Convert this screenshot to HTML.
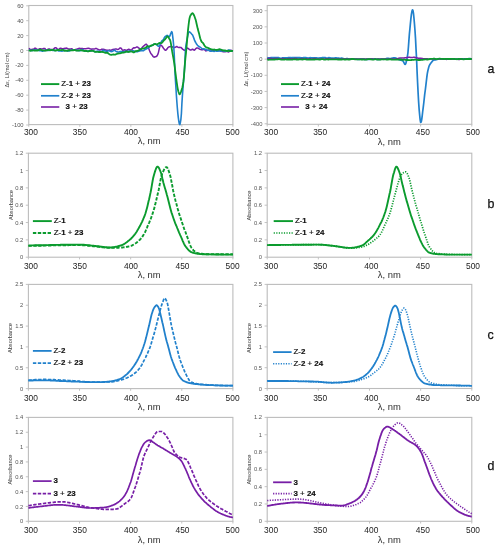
<!DOCTYPE html>
<html><head><meta charset="utf-8"><style>
html,body{margin:0;padding:0;background:#fff;width:499px;height:550px;overflow:hidden;}
svg{display:block;filter:blur(0.3px);}
text{font-family:"Liberation Sans", sans-serif;}
</style></head><body>
<svg width="499" height="550" viewBox="0 0 499 550">
<rect width="499" height="550" fill="#fff"/>
<rect x="28.80" y="5.50" width="204.10" height="119.10" fill="none" stroke="#bcbcbc" stroke-width="1.1"/>
<line x1="26.20" y1="5.80" x2="28.80" y2="5.80" stroke="#bcbcbc" stroke-width="0.9"/>
<text x="23.60" y="7.85" font-size="5.8" text-anchor="end" fill="#555">60</text>
<line x1="26.20" y1="20.70" x2="28.80" y2="20.70" stroke="#bcbcbc" stroke-width="0.9"/>
<text x="23.60" y="22.75" font-size="5.8" text-anchor="end" fill="#555">40</text>
<line x1="26.20" y1="35.60" x2="28.80" y2="35.60" stroke="#bcbcbc" stroke-width="0.9"/>
<text x="23.60" y="37.65" font-size="5.8" text-anchor="end" fill="#555">20</text>
<line x1="26.20" y1="50.50" x2="28.80" y2="50.50" stroke="#bcbcbc" stroke-width="0.9"/>
<text x="23.60" y="52.55" font-size="5.8" text-anchor="end" fill="#555">0</text>
<line x1="26.20" y1="65.40" x2="28.80" y2="65.40" stroke="#bcbcbc" stroke-width="0.9"/>
<text x="23.60" y="67.45" font-size="5.8" text-anchor="end" fill="#555">-20</text>
<line x1="26.20" y1="80.30" x2="28.80" y2="80.30" stroke="#bcbcbc" stroke-width="0.9"/>
<text x="23.60" y="82.35" font-size="5.8" text-anchor="end" fill="#555">-40</text>
<line x1="26.20" y1="95.20" x2="28.80" y2="95.20" stroke="#bcbcbc" stroke-width="0.9"/>
<text x="23.60" y="97.25" font-size="5.8" text-anchor="end" fill="#555">-60</text>
<line x1="26.20" y1="110.10" x2="28.80" y2="110.10" stroke="#bcbcbc" stroke-width="0.9"/>
<text x="23.60" y="112.15" font-size="5.8" text-anchor="end" fill="#555">-80</text>
<line x1="26.20" y1="125.00" x2="28.80" y2="125.00" stroke="#bcbcbc" stroke-width="0.9"/>
<text x="23.60" y="127.05" font-size="5.8" text-anchor="end" fill="#555">-100</text>
<line x1="28.80" y1="124.60" x2="28.80" y2="126.80" stroke="#bcbcbc" stroke-width="0.9"/>
<text x="30.90" y="134.60" font-size="9.5" text-anchor="middle" fill="#222" textLength="14.0" lengthAdjust="spacingAndGlyphs">300</text>
<line x1="79.83" y1="124.60" x2="79.83" y2="126.80" stroke="#bcbcbc" stroke-width="0.9"/>
<text x="79.85" y="134.60" font-size="9.5" text-anchor="middle" fill="#222" textLength="14.0" lengthAdjust="spacingAndGlyphs">350</text>
<line x1="130.85" y1="124.60" x2="130.85" y2="126.80" stroke="#bcbcbc" stroke-width="0.9"/>
<text x="131.00" y="134.60" font-size="9.5" text-anchor="middle" fill="#222" textLength="14.0" lengthAdjust="spacingAndGlyphs">400</text>
<line x1="181.88" y1="124.60" x2="181.88" y2="126.80" stroke="#bcbcbc" stroke-width="0.9"/>
<text x="182.50" y="134.60" font-size="9.5" text-anchor="middle" fill="#222" textLength="14.0" lengthAdjust="spacingAndGlyphs">450</text>
<line x1="232.90" y1="124.60" x2="232.90" y2="126.80" stroke="#bcbcbc" stroke-width="0.9"/>
<text x="232.55" y="134.60" font-size="9.5" text-anchor="middle" fill="#222" textLength="14.0" lengthAdjust="spacingAndGlyphs">500</text>
<text x="149.20" y="144.40" font-size="9.3" text-anchor="middle" fill="#2e2e2e" textLength="23" lengthAdjust="spacingAndGlyphs">λ, nm</text>
<text transform="translate(6.70 70.00) rotate(-90)" x="0" y="0" font-size="6.1" text-anchor="middle" dominant-baseline="central" fill="#3a3a3a" textLength="35.0" lengthAdjust="spacingAndGlyphs">Δε, L/(mol cm)</text>
<path d="M28.8 48.5L29.3 48.7L29.8 49.1L30.3 49.4L30.8 49.5L31.4 49.5L31.9 49.4L32.4 49.3L32.9 49.3L33.4 49.2L33.9 48.9L34.4 48.5L34.9 48.2L35.4 48.2L35.9 48.5L36.5 48.9L37.0 49.2L37.5 49.4L38.0 49.4L38.5 49.3L39.0 49.1L39.5 48.8L40.0 48.7L40.5 48.7L41.0 48.8L41.6 48.9L42.1 49.0L42.6 48.9L43.1 48.7L43.6 48.5L44.1 48.4L44.6 48.4L45.1 48.9L45.6 49.4L46.1 49.8L46.7 50.0L47.2 49.7L47.7 49.5L48.2 49.1L48.7 48.9L49.2 49.1L49.7 49.1L50.2 49.4L50.7 49.6L51.3 49.5L51.8 49.6L52.3 49.6L52.8 49.5L53.3 49.4L53.8 48.9L54.3 48.3L54.8 47.9L55.3 47.7L55.8 47.7L56.4 48.1L56.9 48.6L57.4 49.1L57.9 49.5L58.4 49.5L58.9 49.3L59.4 48.8L59.9 48.4L60.4 48.3L60.9 48.2L61.5 48.6L62.0 48.8L62.5 48.8L63.0 48.9L63.5 48.7L64.0 48.5L64.5 48.5L65.0 48.3L65.5 48.3L66.0 48.2L66.6 48.1L67.1 48.4L67.6 48.5L68.1 48.9L68.6 49.1L69.1 49.0L69.6 49.2L70.1 49.1L70.6 49.0L71.2 49.0L71.7 48.8L72.2 49.0L72.7 49.5L73.2 49.9L73.7 50.3L74.2 50.3L74.7 50.1L75.2 49.8L75.7 49.5L76.3 49.2L76.8 49.2L77.3 49.1L77.8 48.8L78.3 48.7L78.8 48.5L79.3 48.3L79.8 48.4L80.3 48.5L80.8 48.5L81.4 48.5L81.9 48.5L82.4 48.5L82.9 48.7L83.4 48.8L83.9 48.8L84.4 48.8L84.9 48.8L85.4 48.8L85.9 48.8L86.5 48.6L87.0 48.5L87.5 48.4L88.0 48.2L88.5 48.3L89.0 48.4L89.5 48.4L90.0 48.8L90.5 48.9L91.1 49.1L91.6 49.2L92.1 49.0L92.6 48.9L93.1 48.9L93.6 48.9L94.1 49.0L94.6 48.9L95.1 48.7L95.6 48.4L96.2 48.4L96.7 48.7L97.2 48.9L97.7 49.2L98.2 49.4L98.7 49.5L99.2 49.9L99.7 50.0L100.2 49.9L100.7 49.8L101.3 49.5L101.8 49.2L102.3 49.3L102.8 49.3L103.3 49.3L103.8 49.5L104.3 49.4L104.8 49.6L105.3 49.9L105.8 49.9L106.4 50.2L106.9 50.2L107.4 50.2L107.9 50.2L108.4 50.2L108.9 50.2L109.4 50.1L109.9 50.1L110.4 50.3L111.0 50.2L111.5 50.0L112.0 50.0L112.5 49.5L113.0 49.5L113.5 49.5L114.0 49.2L114.5 49.3L115.0 49.1L115.5 48.9L116.1 49.1L116.6 49.1L117.1 49.3L117.6 49.4L118.1 49.4L118.6 49.2L119.1 48.7L119.6 48.2L120.1 48.0L120.6 47.9L121.2 48.4L121.7 49.1L122.2 49.7L122.7 50.2L123.2 50.2L123.7 50.1L124.2 49.9L124.7 49.8L125.2 50.0L125.7 50.2L126.3 50.3L126.8 50.3L127.3 50.0L127.8 49.7L128.3 49.5L128.8 49.3L129.3 49.5L129.8 49.8L130.3 50.0L130.8 50.1L131.4 49.9L131.9 49.5L132.4 48.9L132.9 48.4L133.4 48.0L133.9 47.8L134.4 47.9L134.9 47.8L135.4 47.7L136.0 47.4L136.5 47.0L137.0 47.0L137.5 47.0L138.0 47.4L138.5 47.8L139.0 48.1L139.5 48.6L140.0 48.9L140.5 49.1L141.1 49.0L141.6 48.5L142.1 47.8L142.6 47.0L143.1 46.5L143.6 46.0L144.1 45.8L144.6 45.2L145.1 44.7L145.6 44.4L146.2 44.2L146.7 44.6L147.2 45.3L147.7 46.1L148.2 47.1L148.7 48.4L149.2 49.7L149.7 51.0L150.2 52.2L150.7 53.2L151.3 54.0L151.8 54.6L152.3 55.3L152.8 56.1L153.3 56.6L153.8 57.0L154.3 57.2L154.8 56.9L155.3 56.8L155.9 56.7L156.4 56.2L156.9 56.0L157.4 55.2L157.9 54.2L158.4 52.6L158.9 50.3L159.4 48.2L159.9 46.4L160.4 45.1L161.0 45.2L161.5 45.5L162.0 46.0L162.5 46.8L163.0 47.5L163.5 48.2L164.0 48.8L164.5 49.6L165.0 50.0L165.5 50.2L166.1 50.0L166.6 49.4L167.1 48.9L167.6 48.1L168.1 47.5L168.6 47.1L169.1 46.8L169.6 46.7L170.1 46.7L170.6 46.5L171.2 46.4L171.7 46.6L172.2 46.8L172.7 47.1L173.2 47.4L173.7 47.5L174.2 47.5L174.7 47.5L175.2 47.2L175.8 47.0L176.3 46.7L176.8 46.5L177.3 46.8L177.8 47.1L178.3 47.4L178.8 47.6L179.3 47.6L179.8 47.3L180.3 47.4L180.9 47.4L181.4 47.8L181.9 48.4L182.4 48.9L182.9 49.4L183.4 49.7L183.9 50.0L184.4 50.3L184.9 50.2L185.4 50.1L186.0 49.6L186.5 48.8L187.0 48.4L187.5 48.1L188.0 48.4L188.5 48.7L189.0 49.2L189.5 49.6L190.0 49.8L190.5 50.0L191.1 49.9L191.6 49.7L192.1 49.3L192.6 49.3L193.1 49.5L193.6 49.8L194.1 50.2L194.6 50.1L195.1 49.5L195.7 48.8L196.2 48.3L196.7 48.0L197.2 47.9L197.7 48.1L198.2 48.2L198.7 48.4L199.2 48.9L199.7 49.2L200.2 49.4L200.8 49.6L201.3 49.7L201.8 49.8L202.3 49.8L202.8 49.7L203.3 49.4L203.8 49.2L204.3 49.5L204.8 50.0L205.3 50.4L205.9 50.9L206.4 50.7L206.9 50.5L207.4 50.4L207.9 50.0L208.4 49.9L208.9 50.0L209.4 50.2L209.9 50.6L210.4 51.0L211.0 51.1L211.5 50.8L212.0 50.5L212.5 50.3L213.0 50.1L213.5 50.3L214.0 50.4L214.5 50.4L215.0 50.4L215.6 50.3L216.1 50.2L216.6 50.1L217.1 50.0L217.6 50.0L218.1 50.1L218.6 50.3L219.1 50.5L219.6 50.5L220.1 50.6L220.7 50.7L221.2 50.8L221.7 51.2L222.2 51.5L222.7 51.6L223.2 51.7L223.7 51.8L224.2 51.7L224.7 51.7L225.2 51.7L225.8 51.5L226.3 51.3L226.8 51.3L227.3 51.5L227.8 51.7L228.3 51.9L228.8 51.9L229.3 51.5L229.8 51.0L230.3 50.5L230.9 50.2L231.4 50.5L231.9 50.8L232.4 51.2L232.9 51.4" fill="none" stroke="#771ea6" stroke-width="1.50" stroke-linejoin="round"/>
<path d="M28.8 50.0L29.3 50.2L29.8 50.3L30.3 50.2L30.8 50.4L31.4 50.5L31.9 50.5L32.4 50.6L32.9 50.4L33.4 50.1L33.9 49.9L34.4 49.7L34.9 49.8L35.4 50.0L35.9 50.1L36.5 50.2L37.0 50.2L37.5 50.1L38.0 50.3L38.5 50.4L39.0 50.5L39.5 50.6L40.0 50.6L40.5 50.7L41.0 50.8L41.6 50.9L42.1 51.1L42.6 51.1L43.1 51.0L43.6 50.8L44.1 50.6L44.6 50.5L45.1 50.5L45.6 50.4L46.1 50.3L46.7 50.2L47.2 50.2L47.7 50.4L48.2 50.4L48.7 50.5L49.2 50.5L49.7 50.3L50.2 50.3L50.7 50.1L51.3 50.0L51.8 50.2L52.3 50.2L52.8 50.4L53.3 50.5L53.8 50.5L54.3 50.5L54.8 50.5L55.3 50.4L55.8 50.4L56.4 50.3L56.9 50.2L57.4 50.4L57.9 50.5L58.4 50.7L58.9 51.0L59.4 50.9L59.9 50.9L60.4 50.9L60.9 50.9L61.5 51.1L62.0 51.1L62.5 51.0L63.0 50.9L63.5 50.6L64.0 50.5L64.5 50.4L65.0 50.4L65.5 50.5L66.0 50.7L66.6 50.8L67.1 50.8L67.6 51.0L68.1 51.0L68.6 51.0L69.1 51.0L69.6 50.7L70.1 50.5L70.6 50.4L71.2 50.2L71.7 50.3L72.2 50.3L72.7 50.2L73.2 50.2L73.7 50.2L74.2 50.1L74.7 50.1L75.2 50.2L75.7 50.2L76.3 50.2L76.8 50.4L77.3 50.3L77.8 50.4L78.3 50.5L78.8 50.4L79.3 50.7L79.8 50.6L80.3 50.6L80.8 50.5L81.4 50.1L81.9 49.9L82.4 49.6L82.9 49.7L83.4 50.1L83.9 50.5L84.4 50.9L84.9 51.1L85.4 51.2L85.9 51.2L86.5 51.2L87.0 51.3L87.5 51.1L88.0 51.0L88.5 51.0L89.0 50.8L89.5 51.0L90.0 51.1L90.5 51.0L91.1 50.9L91.6 50.6L92.1 50.5L92.6 50.5L93.1 50.7L93.6 51.0L94.1 51.2L94.6 51.5L95.1 51.6L95.6 51.6L96.2 51.5L96.7 51.3L97.2 51.2L97.7 51.1L98.2 51.2L98.7 51.2L99.2 51.2L99.7 51.5L100.2 51.8L100.7 51.8L101.3 51.7L101.8 51.3L102.3 50.7L102.8 50.5L103.3 50.3L103.8 50.5L104.3 50.7L104.8 50.8L105.3 51.1L105.8 51.3L106.4 51.5L106.9 51.5L107.4 51.3L107.9 51.0L108.4 50.8L108.9 50.8L109.4 50.9L109.9 51.1L110.4 51.4L111.0 51.4L111.5 51.6L112.0 51.5L112.5 51.3L113.0 51.0L113.5 50.6L114.0 50.3L114.5 50.2L115.0 50.5L115.5 50.9L116.1 51.4L116.6 51.7L117.1 51.8L117.6 52.0L118.1 52.0L118.6 52.0L119.1 52.0L119.6 51.8L120.1 51.6L120.6 51.5L121.2 51.5L121.7 51.6L122.2 51.7L122.7 51.8L123.2 51.8L123.7 51.9L124.2 51.8L124.7 51.6L125.2 51.4L125.7 51.4L126.3 51.5L126.8 51.7L127.3 51.7L127.8 51.6L128.3 51.2L128.8 51.0L129.3 51.0L129.8 51.1L130.3 51.4L130.8 51.4L131.4 51.3L131.9 51.2L132.4 50.9L132.9 50.8L133.4 50.9L133.9 51.0L134.4 51.2L134.9 51.4L135.4 51.5L136.0 51.7L136.5 51.7L137.0 51.6L137.5 51.6L138.0 51.5L138.5 51.3L139.0 51.2L139.5 51.0L140.0 50.9L140.5 50.8L141.1 50.7L141.6 50.5L142.1 50.7L142.6 50.7L143.1 50.7L143.6 50.6L144.1 50.2L144.6 49.8L145.1 49.5L145.6 49.2L146.2 49.0L146.7 48.7L147.2 48.4L147.7 48.3L148.2 47.9L148.7 47.4L149.2 46.9L149.7 46.3L150.2 46.2L150.7 46.0L151.3 45.9L151.8 45.8L152.3 45.3L152.8 44.9L153.3 44.6L153.8 44.2L154.3 44.1L154.8 44.0L155.3 44.0L155.9 44.2L156.4 44.4L156.9 44.9L157.4 45.5L157.9 45.9L158.4 46.3L158.9 46.2L159.4 45.5L159.9 44.6L160.4 43.4L161.0 42.3L161.5 41.5L162.0 40.8L162.5 40.5L163.0 39.9L163.5 39.2L164.0 38.4L164.5 37.5L165.0 36.8L165.5 36.2L166.1 35.9L166.6 35.6L167.1 35.4L167.6 35.6L168.1 36.0L168.6 36.4L169.1 36.6L169.6 36.5L170.1 35.4L170.6 33.8L171.2 32.5L171.7 31.7L172.2 32.7L172.7 36.3L173.2 40.6L173.7 46.1L174.2 54.0L174.7 65.4L175.2 76.4L175.8 85.8L176.3 94.0L176.8 101.0L177.3 107.5L177.8 113.1L178.3 117.6L178.8 121.1L179.3 123.8L179.8 124.7L180.3 122.9L180.9 119.3L181.4 113.6L181.9 103.5L182.4 95.6L182.9 89.1L183.4 82.8L183.9 76.7L184.4 71.0L184.9 63.0L185.4 49.9L186.0 45.1L186.5 42.1L187.0 39.6L187.5 37.1L188.0 34.6L188.5 32.6L189.0 31.9L189.5 31.9L190.0 32.2L190.5 32.8L191.1 33.2L191.6 33.9L192.1 34.5L192.6 35.1L193.1 36.3L193.6 37.6L194.1 38.9L194.6 40.4L195.1 41.5L195.7 42.5L196.2 43.5L196.7 44.2L197.2 44.9L197.7 45.6L198.2 45.9L198.7 46.4L199.2 46.6L199.7 46.9L200.2 47.2L200.8 47.6L201.3 48.0L201.8 48.4L202.3 48.7L202.8 48.9L203.3 48.9L203.8 49.0L204.3 49.0L204.8 49.1L205.3 49.2L205.9 49.4L206.4 49.8L206.9 50.0L207.4 50.2L207.9 50.2L208.4 50.2L208.9 50.4L209.4 50.6L209.9 51.1L210.4 51.3L211.0 51.1L211.5 51.1L212.0 50.8L212.5 50.9L213.0 51.2L213.5 51.3L214.0 51.4L214.5 51.2L215.0 51.0L215.6 50.9L216.1 50.9L216.6 51.2L217.1 51.3L217.6 51.2L218.1 51.2L218.6 51.0L219.1 51.0L219.6 51.0L220.1 51.1L220.7 51.1L221.2 50.9L221.7 50.7L222.2 50.5L222.7 50.5L223.2 50.8L223.7 51.0L224.2 51.2L224.7 51.3L225.2 51.2L225.8 51.2L226.3 51.2L226.8 51.1L227.3 50.8L227.8 50.5L228.3 50.2L228.8 50.0L229.3 50.0L229.8 50.2L230.3 50.5L230.9 50.8L231.4 51.1L231.9 51.2L232.4 51.2L232.9 51.3" fill="none" stroke="#2181cc" stroke-width="1.60" stroke-linejoin="round"/>
<path d="M28.8 50.3L29.3 50.5L29.8 50.7L30.3 50.8L30.8 50.7L31.4 50.7L31.9 50.4L32.4 50.3L32.9 50.3L33.4 50.3L33.9 50.4L34.4 50.6L34.9 50.5L35.4 50.5L35.9 50.5L36.5 50.5L37.0 50.5L37.5 50.5L38.0 50.4L38.5 50.2L39.0 50.0L39.5 49.7L40.0 49.7L40.5 49.7L41.0 49.9L41.6 50.2L42.1 50.3L42.6 50.4L43.1 50.4L43.6 50.4L44.1 50.5L44.6 50.6L45.1 50.6L45.6 50.7L46.1 50.7L46.7 50.5L47.2 50.3L47.7 50.0L48.2 49.8L48.7 50.0L49.2 50.1L49.7 50.2L50.2 50.3L50.7 50.2L51.3 50.1L51.8 50.0L52.3 49.9L52.8 49.8L53.3 49.9L53.8 50.0L54.3 50.3L54.8 50.6L55.3 50.7L55.8 50.7L56.4 50.5L56.9 50.2L57.4 50.0L57.9 49.9L58.4 50.0L58.9 50.0L59.4 50.2L59.9 50.1L60.4 50.2L60.9 50.2L61.5 50.1L62.0 49.9L62.5 49.8L63.0 49.8L63.5 50.0L64.0 50.5L64.5 50.8L65.0 50.8L65.5 50.7L66.0 50.6L66.6 50.6L67.1 50.8L67.6 50.6L68.1 50.5L68.6 50.4L69.1 50.2L69.6 50.3L70.1 50.4L70.6 50.4L71.2 50.4L71.7 50.4L72.2 50.4L72.7 50.4L73.2 50.3L73.7 50.1L74.2 50.0L74.7 50.0L75.2 50.2L75.7 50.4L76.3 50.6L76.8 50.6L77.3 50.6L77.8 50.6L78.3 50.6L78.8 50.5L79.3 50.4L79.8 50.3L80.3 50.2L80.8 50.2L81.4 50.3L81.9 50.5L82.4 50.6L82.9 50.7L83.4 50.9L83.9 50.9L84.4 50.9L84.9 51.0L85.4 50.8L85.9 50.9L86.5 51.0L87.0 51.1L87.5 51.3L88.0 51.3L88.5 51.3L89.0 51.1L89.5 51.0L90.0 50.9L90.5 50.9L91.1 50.8L91.6 50.8L92.1 50.9L92.6 50.8L93.1 51.0L93.6 51.2L94.1 51.4L94.6 51.6L95.1 51.9L95.6 51.9L96.2 51.9L96.7 51.8L97.2 51.8L97.7 51.9L98.2 51.9L98.7 52.0L99.2 52.0L99.7 52.0L100.2 52.0L100.7 51.9L101.3 51.8L101.8 51.8L102.3 51.9L102.8 52.0L103.3 52.1L103.8 52.2L104.3 52.5L104.8 52.7L105.3 52.8L105.8 52.9L106.4 52.7L106.9 52.6L107.4 52.8L107.9 53.0L108.4 53.5L108.9 53.9L109.4 54.3L109.9 54.6L110.4 54.7L111.0 54.8L111.5 54.8L112.0 54.7L112.5 54.7L113.0 54.5L113.5 54.5L114.0 54.6L114.5 54.7L115.0 54.7L115.5 54.6L116.1 54.2L116.6 54.0L117.1 53.8L117.6 53.7L118.1 53.6L118.6 53.4L119.1 53.4L119.6 53.3L120.1 53.3L120.6 53.2L121.2 52.9L121.7 52.8L122.2 52.6L122.7 52.5L123.2 52.6L123.7 52.5L124.2 52.4L124.7 52.3L125.2 52.1L125.7 51.8L126.3 51.6L126.8 51.5L127.3 51.6L127.8 51.8L128.3 52.0L128.8 51.9L129.3 51.8L129.8 51.6L130.3 51.4L130.8 51.4L131.4 51.4L131.9 51.6L132.4 51.7L132.9 52.1L133.4 52.4L133.9 52.3L134.4 52.1L134.9 51.7L135.4 51.2L136.0 51.1L136.5 51.1L137.0 50.9L137.5 50.9L138.0 50.8L138.5 50.4L139.0 50.2L139.5 49.9L140.0 49.5L140.5 49.3L141.1 49.0L141.6 48.9L142.1 48.7L142.6 48.7L143.1 48.6L143.6 48.4L144.1 48.4L144.6 48.2L145.1 48.0L145.6 47.8L146.2 47.2L146.7 46.8L147.2 46.4L147.7 46.2L148.2 46.4L148.7 46.6L149.2 46.6L149.7 46.4L150.2 46.2L150.7 45.7L151.3 45.5L151.8 45.4L152.3 45.2L152.8 45.1L153.3 44.9L153.8 44.4L154.3 44.2L154.8 44.0L155.3 43.9L155.9 44.3L156.4 44.3L156.9 44.3L157.4 44.3L157.9 43.8L158.4 43.6L158.9 43.3L159.4 43.0L159.9 43.1L160.4 43.1L161.0 43.1L161.5 43.0L162.0 42.7L162.5 42.1L163.0 41.5L163.5 40.8L164.0 40.2L164.5 39.8L165.0 39.3L165.5 38.7L166.1 38.0L166.6 37.1L167.1 36.5L167.6 36.4L168.1 36.7L168.6 37.5L169.1 38.4L169.6 39.2L170.1 40.0L170.6 41.9L171.2 45.1L171.7 48.6L172.2 51.7L172.7 54.3L173.2 57.0L173.7 59.8L174.2 62.9L174.7 66.5L175.2 70.8L175.8 75.4L176.3 79.5L176.8 82.9L177.3 86.3L177.8 89.1L178.3 91.2L178.8 92.8L179.3 94.1L179.8 94.4L180.3 93.5L180.9 92.1L181.4 90.5L181.9 88.9L182.4 87.2L182.9 84.8L183.4 81.7L183.9 77.2L184.4 70.2L184.9 63.8L185.4 58.3L186.0 53.0L186.5 47.5L187.0 41.5L187.5 35.4L188.0 30.1L188.5 25.7L189.0 21.5L189.5 18.4L190.0 16.5L190.5 15.4L191.1 14.6L191.6 13.8L192.1 13.3L192.6 13.2L193.1 13.6L193.6 14.5L194.1 15.5L194.6 16.7L195.1 18.2L195.7 19.9L196.2 22.0L196.7 24.2L197.2 26.5L197.7 28.6L198.2 30.5L198.7 32.3L199.2 34.1L199.7 36.2L200.2 38.2L200.8 39.9L201.3 41.2L201.8 42.0L202.3 42.4L202.8 42.8L203.3 43.5L203.8 44.3L204.3 45.2L204.8 45.9L205.3 46.6L205.9 47.1L206.4 47.4L206.9 47.7L207.4 47.6L207.9 47.8L208.4 48.1L208.9 48.3L209.4 48.6L209.9 48.9L210.4 49.0L211.0 49.2L211.5 49.3L212.0 49.5L212.5 49.6L213.0 49.6L213.5 49.7L214.0 49.5L214.5 49.6L215.0 49.7L215.6 49.8L216.1 50.0L216.6 49.9L217.1 49.8L217.6 49.8L218.1 49.6L218.6 49.5L219.1 49.3L219.6 49.2L220.1 49.3L220.7 49.5L221.2 49.8L221.7 50.1L222.2 50.1L222.7 50.3L223.2 50.3L223.7 50.5L224.2 50.5L224.7 50.5L225.2 50.5L225.8 50.6L226.3 50.8L226.8 51.0L227.3 51.0L227.8 50.9L228.3 50.7L228.8 50.7L229.3 50.9L229.8 51.0L230.3 51.1L230.9 51.1L231.4 51.0L231.9 50.9L232.4 50.9L232.9 51.1" fill="none" stroke="#0b9b2e" stroke-width="1.80" stroke-linejoin="round"/>
<line x1="41.00" y1="84.10" x2="59.30" y2="84.10" stroke="#0b9b2e" stroke-width="1.90"/>
<text x="61.20" y="86.30" font-size="7.9" fill="#111" stroke="#111" stroke-width="0.18" xml:space="preserve"><tspan font-weight="normal">Z-</tspan><tspan font-weight="bold">1</tspan><tspan font-weight="normal"> + </tspan><tspan font-weight="bold">23</tspan></text>
<line x1="41.00" y1="95.80" x2="59.30" y2="95.80" stroke="#2181cc" stroke-width="1.70"/>
<text x="61.20" y="98.00" font-size="7.9" fill="#111" stroke="#111" stroke-width="0.18" xml:space="preserve"><tspan font-weight="normal">Z-</tspan><tspan font-weight="bold">2</tspan><tspan font-weight="normal"> + </tspan><tspan font-weight="bold">23</tspan></text>
<line x1="41.00" y1="107.00" x2="59.30" y2="107.00" stroke="#771ea6" stroke-width="1.60"/>
<text x="61.20" y="109.20" font-size="7.9" fill="#111" stroke="#111" stroke-width="0.18" xml:space="preserve"><tspan font-weight="bold">  3</tspan><tspan font-weight="normal"> + </tspan><tspan font-weight="bold">23</tspan></text>
<rect x="267.20" y="5.50" width="204.60" height="118.80" fill="none" stroke="#bcbcbc" stroke-width="1.1"/>
<line x1="264.60" y1="10.70" x2="267.20" y2="10.70" stroke="#bcbcbc" stroke-width="0.9"/>
<text x="262.40" y="12.75" font-size="5.8" text-anchor="end" fill="#555">300</text>
<line x1="264.60" y1="26.85" x2="267.20" y2="26.85" stroke="#bcbcbc" stroke-width="0.9"/>
<text x="262.40" y="28.90" font-size="5.8" text-anchor="end" fill="#555">200</text>
<line x1="264.60" y1="43.00" x2="267.20" y2="43.00" stroke="#bcbcbc" stroke-width="0.9"/>
<text x="262.40" y="45.05" font-size="5.8" text-anchor="end" fill="#555">100</text>
<line x1="264.60" y1="59.15" x2="267.20" y2="59.15" stroke="#bcbcbc" stroke-width="0.9"/>
<text x="262.40" y="61.20" font-size="5.8" text-anchor="end" fill="#555">0</text>
<line x1="264.60" y1="75.30" x2="267.20" y2="75.30" stroke="#bcbcbc" stroke-width="0.9"/>
<text x="262.40" y="77.35" font-size="5.8" text-anchor="end" fill="#555">-100</text>
<line x1="264.60" y1="91.45" x2="267.20" y2="91.45" stroke="#bcbcbc" stroke-width="0.9"/>
<text x="262.40" y="93.50" font-size="5.8" text-anchor="end" fill="#555">-200</text>
<line x1="264.60" y1="107.60" x2="267.20" y2="107.60" stroke="#bcbcbc" stroke-width="0.9"/>
<text x="262.40" y="109.65" font-size="5.8" text-anchor="end" fill="#555">-300</text>
<line x1="264.60" y1="123.75" x2="267.20" y2="123.75" stroke="#bcbcbc" stroke-width="0.9"/>
<text x="262.40" y="125.80" font-size="5.8" text-anchor="end" fill="#555">-400</text>
<line x1="267.20" y1="124.30" x2="267.20" y2="126.50" stroke="#bcbcbc" stroke-width="0.9"/>
<text x="271.10" y="134.90" font-size="9.5" text-anchor="middle" fill="#222" textLength="14.0" lengthAdjust="spacingAndGlyphs">300</text>
<line x1="318.35" y1="124.30" x2="318.35" y2="126.50" stroke="#bcbcbc" stroke-width="0.9"/>
<text x="320.20" y="134.90" font-size="9.5" text-anchor="middle" fill="#222" textLength="14.0" lengthAdjust="spacingAndGlyphs">350</text>
<line x1="369.50" y1="124.30" x2="369.50" y2="126.50" stroke="#bcbcbc" stroke-width="0.9"/>
<text x="371.30" y="134.90" font-size="9.5" text-anchor="middle" fill="#222" textLength="14.0" lengthAdjust="spacingAndGlyphs">400</text>
<line x1="420.65" y1="124.30" x2="420.65" y2="126.50" stroke="#bcbcbc" stroke-width="0.9"/>
<text x="422.80" y="134.90" font-size="9.5" text-anchor="middle" fill="#222" textLength="14.0" lengthAdjust="spacingAndGlyphs">450</text>
<line x1="471.80" y1="124.30" x2="471.80" y2="126.50" stroke="#bcbcbc" stroke-width="0.9"/>
<text x="473.00" y="134.90" font-size="9.5" text-anchor="middle" fill="#222" textLength="14.0" lengthAdjust="spacingAndGlyphs">500</text>
<text x="389.30" y="144.70" font-size="9.3" text-anchor="middle" fill="#2e2e2e" textLength="23" lengthAdjust="spacingAndGlyphs">λ, nm</text>
<text transform="translate(245.40 69.10) rotate(-90)" x="0" y="0" font-size="6.1" text-anchor="middle" dominant-baseline="central" fill="#3a3a3a" textLength="35.0" lengthAdjust="spacingAndGlyphs">Δε, L/(mol cm)</text>
<path d="M267.2 57.7L267.7 57.8L268.2 57.8L268.7 57.9L269.2 57.9L269.8 57.9L270.3 57.8L270.8 57.7L271.3 57.6L271.8 57.5L272.3 57.5L272.8 57.5L273.3 57.5L273.8 57.6L274.4 57.6L274.9 57.6L275.4 57.7L275.9 57.7L276.4 57.7L276.9 57.6L277.4 57.6L277.9 57.6L278.5 57.6L279.0 57.8L279.5 58.0L280.0 58.2L280.5 58.3L281.0 58.3L281.5 58.3L282.0 58.1L282.5 57.9L283.1 57.8L283.6 57.8L284.1 57.8L284.6 57.8L285.1 57.8L285.6 57.9L286.1 57.9L286.6 57.9L287.1 57.8L287.7 57.8L288.2 57.7L288.7 57.6L289.2 57.6L289.7 57.6L290.2 57.7L290.7 57.7L291.2 57.7L291.8 57.8L292.3 57.7L292.8 57.7L293.3 57.6L293.8 57.5L294.3 57.5L294.8 57.5L295.3 57.6L295.8 57.6L296.4 57.7L296.9 57.7L297.4 57.7L297.9 57.6L298.4 57.6L298.9 57.6L299.4 57.6L299.9 57.6L300.4 57.7L301.0 57.8L301.5 57.8L302.0 57.9L302.5 57.8L303.0 57.8L303.5 57.7L304.0 57.6L304.5 57.6L305.1 57.5L305.6 57.5L306.1 57.7L306.6 57.8L307.1 57.9L307.6 58.0L308.1 58.0L308.6 58.0L309.1 57.9L309.7 57.8L310.2 57.7L310.7 57.8L311.2 57.9L311.7 57.9L312.2 57.9L312.7 57.9L313.2 57.9L313.7 57.9L314.3 57.9L314.8 57.8L315.3 57.8L315.8 57.8L316.3 57.8L316.8 57.9L317.3 58.0L317.8 58.0L318.4 58.0L318.9 58.0L319.4 58.0L319.9 57.9L320.4 58.0L320.9 57.9L321.4 57.9L321.9 57.8L322.4 57.6L323.0 57.6L323.5 57.5L324.0 57.5L324.5 57.6L325.0 57.6L325.5 57.7L326.0 57.9L326.5 58.0L327.0 58.0L327.6 58.0L328.1 57.9L328.6 57.7L329.1 57.7L329.6 57.8L330.1 57.8L330.6 58.0L331.1 58.1L331.6 58.1L332.2 58.2L332.7 58.2L333.2 58.3L333.7 58.2L334.2 58.1L334.7 58.0L335.2 57.9L335.7 57.9L336.3 57.9L336.8 58.0L337.3 58.1L337.8 58.1L338.3 58.2L338.8 58.2L339.3 58.3L339.8 58.4L340.3 58.3L340.9 58.3L341.4 58.2L341.9 58.2L342.4 58.3L342.9 58.5L343.4 58.6L343.9 58.8L344.4 58.8L344.9 58.9L345.5 58.8L346.0 58.8L346.5 58.7L347.0 58.7L347.5 58.7L348.0 58.8L348.5 58.8L349.0 59.0L349.6 59.1L350.1 59.1L350.6 59.2L351.1 59.1L351.6 59.0L352.1 59.0L352.6 59.1L353.1 59.1L353.6 59.2L354.2 59.2L354.7 59.1L355.2 59.1L355.7 59.1L356.2 59.1L356.7 59.2L357.2 59.3L357.7 59.4L358.2 59.5L358.8 59.4L359.3 59.4L359.8 59.3L360.3 59.2L360.8 59.2L361.3 59.2L361.8 59.2L362.3 59.1L362.9 59.1L363.4 59.2L363.9 59.3L364.4 59.4L364.9 59.5L365.4 59.5L365.9 59.5L366.4 59.4L366.9 59.3L367.5 59.3L368.0 59.3L368.5 59.4L369.0 59.3L369.5 59.3L370.0 59.2L370.5 59.2L371.0 59.2L371.5 59.2L372.1 59.2L372.6 59.2L373.1 59.1L373.6 59.0L374.1 58.9L374.6 58.8L375.1 58.9L375.6 59.1L376.1 59.3L376.7 59.4L377.2 59.5L377.7 59.4L378.2 59.3L378.7 59.3L379.2 59.3L379.7 59.3L380.2 59.3L380.8 59.2L381.3 59.2L381.8 59.1L382.3 59.1L382.8 59.2L383.3 59.2L383.8 59.3L384.3 59.1L384.8 59.0L385.4 58.9L385.9 58.7L386.4 58.5L386.9 58.4L387.4 58.3L387.9 58.3L388.4 58.4L388.9 58.5L389.4 58.7L390.0 58.7L390.5 58.7L391.0 58.6L391.5 58.4L392.0 58.2L392.5 58.1L393.0 58.0L393.5 57.9L394.1 57.9L394.6 57.9L395.1 57.9L395.6 58.0L396.1 58.2L396.6 58.4L397.1 58.7L397.6 59.0L398.1 59.2L398.7 59.4L399.2 59.6L399.7 59.8L400.2 59.9L400.7 60.1L401.2 60.3L401.7 60.3L402.2 60.5L402.7 60.7L403.3 61.4L403.8 62.4L404.3 63.4L404.8 64.2L405.3 64.4L405.8 63.6L406.3 61.8L406.8 59.3L407.4 56.4L407.9 53.0L408.4 47.3L408.9 40.4L409.4 33.9L409.9 28.8L410.4 23.6L410.9 18.6L411.4 14.3L412.0 11.1L412.5 9.8L413.0 10.6L413.5 13.7L414.0 18.5L414.5 24.4L415.0 30.7L415.5 38.2L416.0 48.4L416.6 59.7L417.1 72.1L417.6 82.7L418.1 92.7L418.6 101.6L419.1 108.9L419.6 114.3L420.1 119.3L420.6 122.4L421.2 122.1L421.7 119.7L422.2 115.8L422.7 111.5L423.2 107.6L423.7 103.5L424.2 99.0L424.7 94.4L425.3 90.0L425.8 85.8L426.3 81.6L426.8 77.4L427.3 73.7L427.8 71.0L428.3 68.9L428.8 67.1L429.3 65.6L429.9 64.5L430.4 63.8L430.9 63.1L431.4 62.4L431.9 61.7L432.4 61.1L432.9 60.6L433.4 60.3L433.9 60.1L434.5 60.0L435.0 60.0L435.5 59.8L436.0 59.7L436.5 59.6L437.0 59.4L437.5 59.3L438.0 59.1L438.6 59.0L439.1 58.9L439.6 58.9L440.1 58.9L440.6 59.0L441.1 59.0L441.6 59.0L442.1 58.9L442.6 58.8L443.2 58.8L443.7 58.8L444.2 58.8L444.7 58.8L445.2 58.9L445.7 58.9L446.2 59.0L446.7 59.0L447.2 58.9L447.8 58.9L448.3 58.8L448.8 58.8L449.3 58.9L449.8 58.9L450.3 59.0L450.8 59.0L451.3 59.0L451.9 58.9L452.4 58.9L452.9 58.9L453.4 58.9L453.9 58.9L454.4 58.9L454.9 59.0L455.4 59.0L455.9 59.1L456.5 59.0L457.0 59.0L457.5 59.0L458.0 59.1L458.5 59.1L459.0 59.2L459.5 59.2L460.0 59.2L460.5 59.1L461.1 59.0L461.6 58.9L462.1 58.9L462.6 58.9L463.1 58.9L463.6 58.9L464.1 58.9L464.6 58.9L465.2 58.8L465.7 58.8L466.2 58.9L466.7 58.9L467.2 59.0L467.7 58.9L468.2 58.8L468.7 58.7L469.2 58.7L469.8 58.7L470.3 58.7L470.8 58.8L471.3 58.8L471.8 58.8" fill="none" stroke="#2181cc" stroke-width="1.70" stroke-linejoin="round"/>
<path d="M267.2 58.7L267.7 58.6L268.2 58.5L268.7 58.5L269.2 58.4L269.8 58.3L270.3 58.3L270.8 58.4L271.3 58.5L271.8 58.7L272.3 58.8L272.8 58.8L273.3 58.8L273.8 58.7L274.4 58.5L274.9 58.5L275.4 58.4L275.9 58.4L276.4 58.5L276.9 58.5L277.4 58.6L277.9 58.6L278.5 58.7L279.0 58.7L279.5 58.8L280.0 58.8L280.5 58.9L281.0 58.8L281.5 58.7L282.0 58.7L282.5 58.6L283.1 58.6L283.6 58.7L284.1 58.7L284.6 58.7L285.1 58.8L285.6 58.8L286.1 58.9L286.6 58.9L287.1 58.8L287.7 58.8L288.2 58.7L288.7 58.6L289.2 58.6L289.7 58.6L290.2 58.7L290.7 58.8L291.2 58.7L291.8 58.7L292.3 58.7L292.8 58.7L293.3 58.7L293.8 58.7L294.3 58.6L294.8 58.5L295.3 58.5L295.8 58.5L296.4 58.6L296.9 58.7L297.4 58.9L297.9 59.0L298.4 59.0L298.9 59.0L299.4 58.9L299.9 58.8L300.4 58.7L301.0 58.7L301.5 58.6L302.0 58.6L302.5 58.7L303.0 58.8L303.5 58.8L304.0 58.9L304.5 58.9L305.1 58.9L305.6 58.8L306.1 58.8L306.6 58.8L307.1 58.8L307.6 58.9L308.1 58.9L308.6 58.9L309.1 58.8L309.7 58.8L310.2 58.8L310.7 58.8L311.2 58.9L311.7 58.9L312.2 58.9L312.7 58.9L313.2 58.8L313.7 58.7L314.3 58.6L314.8 58.6L315.3 58.6L315.8 58.8L316.3 58.9L316.8 59.0L317.3 59.1L317.8 59.1L318.4 59.1L318.9 59.1L319.4 59.1L319.9 59.0L320.4 59.0L320.9 59.0L321.4 59.0L321.9 59.0L322.4 59.1L323.0 59.1L323.5 59.1L324.0 59.1L324.5 59.0L325.0 58.9L325.5 58.9L326.0 58.8L326.5 58.8L327.0 58.8L327.6 58.8L328.1 58.7L328.6 58.7L329.1 58.8L329.6 58.9L330.1 59.0L330.6 59.0L331.1 59.0L331.6 59.0L332.2 59.0L332.7 59.0L333.2 59.1L333.7 59.1L334.2 59.0L334.7 59.0L335.2 59.0L335.7 59.1L336.3 59.1L336.8 59.1L337.3 59.0L337.8 58.9L338.3 58.9L338.8 58.9L339.3 58.9L339.8 59.1L340.3 59.1L340.9 59.2L341.4 59.1L341.9 59.0L342.4 59.0L342.9 58.9L343.4 58.8L343.9 58.9L344.4 58.9L344.9 58.9L345.5 58.9L346.0 58.9L346.5 58.8L347.0 58.9L347.5 58.9L348.0 58.9L348.5 59.0L349.0 59.0L349.6 59.1L350.1 59.1L350.6 59.1L351.1 59.0L351.6 59.0L352.1 59.0L352.6 59.1L353.1 59.1L353.6 59.1L354.2 59.1L354.7 59.0L355.2 59.0L355.7 58.9L356.2 58.9L356.7 58.9L357.2 58.9L357.7 58.9L358.2 58.9L358.8 58.9L359.3 59.0L359.8 59.1L360.3 59.1L360.8 59.1L361.3 59.1L361.8 59.0L362.3 59.0L362.9 59.0L363.4 59.0L363.9 58.9L364.4 58.9L364.9 58.9L365.4 58.9L365.9 59.0L366.4 59.1L366.9 59.1L367.5 59.0L368.0 58.9L368.5 58.9L369.0 58.9L369.5 58.9L370.0 59.0L370.5 59.0L371.0 58.9L371.5 58.9L372.1 58.8L372.6 58.9L373.1 59.0L373.6 59.2L374.1 59.3L374.6 59.3L375.1 59.3L375.6 59.3L376.1 59.2L376.7 59.1L377.2 59.0L377.7 59.0L378.2 59.0L378.7 59.1L379.2 59.1L379.7 59.1L380.2 59.2L380.8 59.1L381.3 59.1L381.8 59.1L382.3 59.0L382.8 59.0L383.3 59.0L383.8 58.9L384.3 58.9L384.8 59.0L385.4 59.0L385.9 59.1L386.4 59.2L386.9 59.2L387.4 59.1L387.9 59.0L388.4 58.9L388.9 58.9L389.4 58.9L390.0 59.0L390.5 59.0L391.0 59.0L391.5 59.0L392.0 59.0L392.5 58.9L393.0 58.9L393.5 59.0L394.1 58.9L394.6 58.9L395.1 58.9L395.6 58.9L396.1 58.9L396.6 58.8L397.1 58.8L397.6 58.7L398.1 58.5L398.7 58.3L399.2 58.2L399.7 58.1L400.2 58.0L400.7 58.0L401.2 58.0L401.7 58.1L402.2 58.0L402.7 58.1L403.3 58.1L403.8 58.0L404.3 57.9L404.8 57.8L405.3 57.7L405.8 57.7L406.3 57.6L406.8 57.6L407.4 57.6L407.9 57.4L408.4 57.3L408.9 57.2L409.4 57.2L409.9 57.3L410.4 57.4L410.9 57.4L411.4 57.5L412.0 57.5L412.5 57.5L413.0 57.4L413.5 57.3L414.0 57.3L414.5 57.3L415.0 57.5L415.5 57.6L416.0 57.7L416.6 57.8L417.1 58.0L417.6 58.1L418.1 58.2L418.6 58.3L419.1 58.3L419.6 58.3L420.1 58.2L420.6 58.2L421.2 58.3L421.7 58.4L422.2 58.5L422.7 58.6L423.2 58.7L423.7 58.8L424.2 58.8L424.7 58.8L425.3 58.8L425.8 58.8L426.3 58.7L426.8 58.7L427.3 58.7L427.8 58.9L428.3 59.0L428.8 59.2L429.3 59.2L429.9 59.2L430.4 59.1L430.9 59.0L431.4 58.9L431.9 58.9L432.4 58.9L432.9 58.9L433.4 59.0L433.9 59.1L434.5 59.2L435.0 59.3L435.5 59.3L436.0 59.3L436.5 59.3L437.0 59.3L437.5 59.3L438.0 59.2L438.6 59.2L439.1 59.1L439.6 59.0L440.1 59.0L440.6 59.0L441.1 59.0L441.6 59.1L442.1 59.1L442.6 59.2L443.2 59.2L443.7 59.2L444.2 59.1L444.7 59.1L445.2 59.2L445.7 59.2L446.2 59.3L446.7 59.4L447.2 59.3L447.8 59.2L448.3 59.1L448.8 58.9L449.3 58.9L449.8 59.0L450.3 59.2L450.8 59.3L451.3 59.3L451.9 59.2L452.4 59.1L452.9 59.1L453.4 59.1L453.9 59.1L454.4 59.2L454.9 59.3L455.4 59.2L455.9 59.2L456.5 59.2L457.0 59.2L457.5 59.2L458.0 59.3L458.5 59.4L459.0 59.4L459.5 59.4L460.0 59.3L460.5 59.3L461.1 59.3L461.6 59.2L462.1 59.2L462.6 59.3L463.1 59.2L463.6 59.2L464.1 59.2L464.6 59.2L465.2 59.2L465.7 59.2L466.2 59.2L466.7 59.1L467.2 59.0L467.7 59.0L468.2 59.0L468.7 59.0L469.2 59.0L469.8 59.0L470.3 59.0L470.8 59.0L471.3 59.1L471.8 59.1" fill="none" stroke="#771ea6" stroke-width="1.50" stroke-linejoin="round"/>
<path d="M267.2 59.4L267.7 59.5L268.2 59.7L268.7 59.8L269.2 59.7L269.8 59.7L270.3 59.6L270.8 59.5L271.3 59.6L271.8 59.6L272.3 59.6L272.8 59.6L273.3 59.6L273.8 59.5L274.4 59.5L274.9 59.5L275.4 59.4L275.9 59.4L276.4 59.4L276.9 59.4L277.4 59.3L277.9 59.3L278.5 59.2L279.0 59.2L279.5 59.2L280.0 59.3L280.5 59.4L281.0 59.5L281.5 59.6L282.0 59.6L282.5 59.6L283.1 59.6L283.6 59.6L284.1 59.5L284.6 59.5L285.1 59.4L285.6 59.4L286.1 59.4L286.6 59.5L287.1 59.5L287.7 59.5L288.2 59.6L288.7 59.5L289.2 59.5L289.7 59.5L290.2 59.5L290.7 59.6L291.2 59.6L291.8 59.7L292.3 59.6L292.8 59.5L293.3 59.3L293.8 59.3L294.3 59.2L294.8 59.3L295.3 59.3L295.8 59.4L296.4 59.5L296.9 59.5L297.4 59.5L297.9 59.6L298.4 59.5L298.9 59.4L299.4 59.4L299.9 59.3L300.4 59.4L301.0 59.4L301.5 59.4L302.0 59.5L302.5 59.5L303.0 59.4L303.5 59.3L304.0 59.3L304.5 59.2L305.1 59.2L305.6 59.3L306.1 59.4L306.6 59.5L307.1 59.7L307.6 59.7L308.1 59.6L308.6 59.6L309.1 59.5L309.7 59.4L310.2 59.5L310.7 59.5L311.2 59.6L311.7 59.6L312.2 59.6L312.7 59.5L313.2 59.5L313.7 59.5L314.3 59.5L314.8 59.5L315.3 59.4L315.8 59.4L316.3 59.4L316.8 59.4L317.3 59.3L317.8 59.4L318.4 59.4L318.9 59.5L319.4 59.6L319.9 59.6L320.4 59.5L320.9 59.3L321.4 59.2L321.9 59.1L322.4 59.1L323.0 59.2L323.5 59.4L324.0 59.6L324.5 59.7L325.0 59.6L325.5 59.5L326.0 59.4L326.5 59.3L327.0 59.4L327.6 59.4L328.1 59.5L328.6 59.5L329.1 59.4L329.6 59.4L330.1 59.4L330.6 59.4L331.1 59.4L331.6 59.4L332.2 59.4L332.7 59.3L333.2 59.3L333.7 59.4L334.2 59.4L334.7 59.4L335.2 59.4L335.7 59.3L336.3 59.3L336.8 59.3L337.3 59.4L337.8 59.5L338.3 59.5L338.8 59.5L339.3 59.5L339.8 59.5L340.3 59.5L340.9 59.5L341.4 59.5L341.9 59.5L342.4 59.4L342.9 59.4L343.4 59.3L343.9 59.4L344.4 59.5L344.9 59.5L345.5 59.6L346.0 59.5L346.5 59.4L347.0 59.4L347.5 59.4L348.0 59.5L348.5 59.6L349.0 59.5L349.6 59.5L350.1 59.4L350.6 59.3L351.1 59.1L351.6 59.0L352.1 58.9L352.6 58.9L353.1 59.0L353.6 59.1L354.2 59.2L354.7 59.3L355.2 59.4L355.7 59.4L356.2 59.4L356.7 59.3L357.2 59.3L357.7 59.4L358.2 59.4L358.8 59.4L359.3 59.4L359.8 59.3L360.3 59.3L360.8 59.4L361.3 59.5L361.8 59.5L362.3 59.5L362.9 59.5L363.4 59.4L363.9 59.4L364.4 59.5L364.9 59.6L365.4 59.7L365.9 59.7L366.4 59.5L366.9 59.4L367.5 59.3L368.0 59.2L368.5 59.1L369.0 59.1L369.5 59.1L370.0 59.1L370.5 59.3L371.0 59.3L371.5 59.4L372.1 59.6L372.6 59.6L373.1 59.7L373.6 59.7L374.1 59.5L374.6 59.3L375.1 59.2L375.6 59.2L376.1 59.3L376.7 59.4L377.2 59.5L377.7 59.5L378.2 59.5L378.7 59.5L379.2 59.6L379.7 59.6L380.2 59.7L380.8 59.5L381.3 59.4L381.8 59.4L382.3 59.3L382.8 59.4L383.3 59.4L383.8 59.4L384.3 59.4L384.8 59.4L385.4 59.4L385.9 59.4L386.4 59.5L386.9 59.6L387.4 59.6L387.9 59.5L388.4 59.5L388.9 59.3L389.4 59.3L390.0 59.2L390.5 59.3L391.0 59.4L391.5 59.6L392.0 59.7L392.5 59.7L393.0 59.7L393.5 59.7L394.1 59.7L394.6 59.7L395.1 59.6L395.6 59.6L396.1 59.5L396.6 59.5L397.1 59.5L397.6 59.6L398.1 59.7L398.7 59.7L399.2 59.7L399.7 59.5L400.2 59.5L400.7 59.5L401.2 59.5L401.7 59.7L402.2 59.8L402.7 59.8L403.3 59.8L403.8 59.7L404.3 59.7L404.8 59.7L405.3 59.8L405.8 59.9L406.3 60.0L406.8 60.0L407.4 60.0L407.9 60.0L408.4 60.1L408.9 60.1L409.4 60.2L409.9 60.2L410.4 60.1L410.9 60.1L411.4 60.0L412.0 59.9L412.5 59.9L413.0 59.8L413.5 59.8L414.0 59.8L414.5 59.7L415.0 59.7L415.5 59.7L416.0 59.7L416.6 59.8L417.1 59.9L417.6 59.9L418.1 60.0L418.6 60.1L419.1 60.0L419.6 60.0L420.1 60.0L420.6 59.9L421.2 59.9L421.7 59.8L422.2 59.8L422.7 59.8L423.2 59.7L423.7 59.6L424.2 59.5L424.7 59.4L425.3 59.3L425.8 59.4L426.3 59.4L426.8 59.5L427.3 59.6L427.8 59.5L428.3 59.4L428.8 59.3L429.3 59.1L429.9 58.9L430.4 58.8L430.9 58.8L431.4 58.9L431.9 58.9L432.4 58.9L432.9 58.8L433.4 58.7L433.9 58.7L434.5 58.7L435.0 58.9L435.5 59.0L436.0 59.2L436.5 59.2L437.0 59.2L437.5 59.1L438.0 58.9L438.6 58.8L439.1 58.7L439.6 58.7L440.1 58.7L440.6 58.8L441.1 58.9L441.6 58.9L442.1 58.9L442.6 58.9L443.2 58.9L443.7 59.0L444.2 59.1L444.7 59.1L445.2 59.0L445.7 59.0L446.2 58.9L446.7 58.8L447.2 58.8L447.8 58.9L448.3 59.0L448.8 59.0L449.3 59.0L449.8 59.0L450.3 59.0L450.8 58.9L451.3 58.9L451.9 58.8L452.4 58.9L452.9 58.9L453.4 58.9L453.9 59.0L454.4 59.0L454.9 59.1L455.4 59.1L455.9 59.2L456.5 59.2L457.0 59.3L457.5 59.2L458.0 59.1L458.5 59.0L459.0 58.9L459.5 58.8L460.0 58.9L460.5 58.9L461.1 58.9L461.6 58.9L462.1 59.0L462.6 59.2L463.1 59.3L463.6 59.3L464.1 59.3L464.6 59.2L465.2 59.2L465.7 59.1L466.2 59.1L466.7 59.0L467.2 59.0L467.7 59.0L468.2 59.0L468.7 59.0L469.2 59.0L469.8 58.9L470.3 59.0L470.8 58.9L471.3 59.0L471.8 59.0" fill="none" stroke="#0b9b2e" stroke-width="1.80" stroke-linejoin="round"/>
<line x1="281.00" y1="84.10" x2="299.00" y2="84.10" stroke="#0b9b2e" stroke-width="1.90"/>
<text x="300.90" y="86.30" font-size="7.9" fill="#111" stroke="#111" stroke-width="0.18" xml:space="preserve"><tspan font-weight="normal">Z-</tspan><tspan font-weight="bold">1</tspan><tspan font-weight="normal"> + </tspan><tspan font-weight="bold">24</tspan></text>
<line x1="281.00" y1="95.80" x2="299.00" y2="95.80" stroke="#2181cc" stroke-width="1.70"/>
<text x="300.90" y="98.00" font-size="7.9" fill="#111" stroke="#111" stroke-width="0.18" xml:space="preserve"><tspan font-weight="normal">Z-</tspan><tspan font-weight="bold">2</tspan><tspan font-weight="normal"> + </tspan><tspan font-weight="bold">24</tspan></text>
<line x1="281.00" y1="107.00" x2="299.00" y2="107.00" stroke="#771ea6" stroke-width="1.60"/>
<text x="300.90" y="109.20" font-size="7.9" fill="#111" stroke="#111" stroke-width="0.18" xml:space="preserve"><tspan font-weight="bold">  3</tspan><tspan font-weight="normal"> + </tspan><tspan font-weight="bold">24</tspan></text>
<rect x="28.40" y="153.20" width="204.50" height="104.00" fill="none" stroke="#bcbcbc" stroke-width="1.1"/>
<line x1="25.80" y1="257.20" x2="28.40" y2="257.20" stroke="#bcbcbc" stroke-width="0.9"/>
<text x="23.20" y="259.25" font-size="5.8" text-anchor="end" fill="#555">0</text>
<line x1="25.80" y1="239.87" x2="28.40" y2="239.87" stroke="#bcbcbc" stroke-width="0.9"/>
<text x="23.20" y="241.92" font-size="5.8" text-anchor="end" fill="#555">0.2</text>
<line x1="25.80" y1="222.53" x2="28.40" y2="222.53" stroke="#bcbcbc" stroke-width="0.9"/>
<text x="23.20" y="224.58" font-size="5.8" text-anchor="end" fill="#555">0.4</text>
<line x1="25.80" y1="205.20" x2="28.40" y2="205.20" stroke="#bcbcbc" stroke-width="0.9"/>
<text x="23.20" y="207.25" font-size="5.8" text-anchor="end" fill="#555">0.6</text>
<line x1="25.80" y1="187.86" x2="28.40" y2="187.86" stroke="#bcbcbc" stroke-width="0.9"/>
<text x="23.20" y="189.91" font-size="5.8" text-anchor="end" fill="#555">0.8</text>
<line x1="25.80" y1="170.53" x2="28.40" y2="170.53" stroke="#bcbcbc" stroke-width="0.9"/>
<text x="23.20" y="172.58" font-size="5.8" text-anchor="end" fill="#555">1</text>
<line x1="25.80" y1="153.20" x2="28.40" y2="153.20" stroke="#bcbcbc" stroke-width="0.9"/>
<text x="23.20" y="155.25" font-size="5.8" text-anchor="end" fill="#555">1.2</text>
<line x1="28.40" y1="257.20" x2="28.40" y2="259.40" stroke="#bcbcbc" stroke-width="0.9"/>
<text x="30.90" y="268.70" font-size="9.5" text-anchor="middle" fill="#222" textLength="14.0" lengthAdjust="spacingAndGlyphs">300</text>
<line x1="79.53" y1="257.20" x2="79.53" y2="259.40" stroke="#bcbcbc" stroke-width="0.9"/>
<text x="79.85" y="268.70" font-size="9.5" text-anchor="middle" fill="#222" textLength="14.0" lengthAdjust="spacingAndGlyphs">350</text>
<line x1="130.65" y1="257.20" x2="130.65" y2="259.40" stroke="#bcbcbc" stroke-width="0.9"/>
<text x="131.00" y="268.70" font-size="9.5" text-anchor="middle" fill="#222" textLength="14.0" lengthAdjust="spacingAndGlyphs">400</text>
<line x1="181.78" y1="257.20" x2="181.78" y2="259.40" stroke="#bcbcbc" stroke-width="0.9"/>
<text x="182.50" y="268.70" font-size="9.5" text-anchor="middle" fill="#222" textLength="14.0" lengthAdjust="spacingAndGlyphs">450</text>
<line x1="232.90" y1="257.20" x2="232.90" y2="259.40" stroke="#bcbcbc" stroke-width="0.9"/>
<text x="232.55" y="268.70" font-size="9.5" text-anchor="middle" fill="#222" textLength="14.0" lengthAdjust="spacingAndGlyphs">500</text>
<text x="149.20" y="278.20" font-size="9.3" text-anchor="middle" fill="#2e2e2e" textLength="23" lengthAdjust="spacingAndGlyphs">λ, nm</text>
<text transform="translate(10.00 205.00) rotate(-90)" x="0" y="0" font-size="6.1" text-anchor="middle" dominant-baseline="central" fill="#3a3a3a" textLength="30.0" lengthAdjust="spacingAndGlyphs">Absorbance</text>
<path d="M28.4 245.5L28.9 245.5L29.4 245.5L29.9 245.5L30.4 245.5L31.0 245.4L31.5 245.4L32.0 245.4L32.5 245.4L33.0 245.4L33.5 245.4L34.0 245.4L34.5 245.4L35.0 245.3L35.6 245.3L36.1 245.3L36.6 245.3L37.1 245.3L37.6 245.3L38.1 245.3L38.6 245.3L39.1 245.3L39.6 245.2L40.2 245.2L40.7 245.2L41.2 245.2L41.7 245.2L42.2 245.2L42.7 245.2L43.2 245.2L43.7 245.2L44.2 245.2L44.8 245.1L45.3 245.1L45.8 245.1L46.3 245.1L46.8 245.1L47.3 245.1L47.8 245.1L48.3 245.1L48.9 245.1L49.4 245.1L49.9 245.0L50.4 245.0L50.9 245.0L51.4 245.0L51.9 245.0L52.4 245.0L52.9 245.0L53.5 245.0L54.0 245.0L54.5 245.0L55.0 245.0L55.5 244.9L56.0 244.9L56.5 244.9L57.0 244.9L57.5 244.9L58.1 244.9L58.6 244.9L59.1 244.9L59.6 244.9L60.1 244.9L60.6 244.8L61.1 244.8L61.6 244.8L62.1 244.8L62.7 244.8L63.2 244.8L63.7 244.8L64.2 244.8L64.7 244.8L65.2 244.8L65.7 244.8L66.2 244.8L66.7 244.7L67.3 244.7L67.8 244.7L68.3 244.7L68.8 244.7L69.3 244.7L69.8 244.7L70.3 244.7L70.8 244.7L71.3 244.7L71.9 244.7L72.4 244.7L72.9 244.7L73.4 244.7L73.9 244.7L74.4 244.7L74.9 244.6L75.4 244.6L75.9 244.6L76.5 244.6L77.0 244.6L77.5 244.6L78.0 244.6L78.5 244.6L79.0 244.6L79.5 244.6L80.0 244.6L80.5 244.6L81.1 244.7L81.6 244.7L82.1 244.7L82.6 244.7L83.1 244.8L83.6 244.8L84.1 244.8L84.6 244.9L85.1 244.9L85.7 245.0L86.2 245.0L86.7 245.1L87.2 245.1L87.7 245.2L88.2 245.2L88.7 245.3L89.2 245.3L89.8 245.4L90.3 245.4L90.8 245.5L91.3 245.6L91.8 245.6L92.3 245.7L92.8 245.7L93.3 245.8L93.8 245.8L94.4 245.9L94.9 245.9L95.4 246.0L95.9 246.0L96.4 246.1L96.9 246.2L97.4 246.2L97.9 246.3L98.4 246.3L99.0 246.4L99.5 246.5L100.0 246.5L100.5 246.6L101.0 246.7L101.5 246.8L102.0 246.8L102.5 246.9L103.0 247.0L103.6 247.0L104.1 247.1L104.6 247.1L105.1 247.2L105.6 247.2L106.1 247.3L106.6 247.3L107.1 247.4L107.6 247.4L108.2 247.4L108.7 247.5L109.2 247.5L109.7 247.5L110.2 247.5L110.7 247.5L111.2 247.5L111.7 247.4L112.2 247.4L112.8 247.3L113.3 247.3L113.8 247.2L114.3 247.1L114.8 247.0L115.3 246.9L115.8 246.8L116.3 246.7L116.8 246.6L117.4 246.5L117.9 246.3L118.4 246.2L118.9 246.0L119.4 245.9L119.9 245.7L120.4 245.6L120.9 245.4L121.4 245.2L122.0 245.1L122.5 244.9L123.0 244.7L123.5 244.4L124.0 244.1L124.5 243.8L125.0 243.5L125.5 243.1L126.0 242.7L126.6 242.3L127.1 241.9L127.6 241.5L128.1 241.1L128.6 240.7L129.1 240.3L129.6 239.9L130.1 239.4L130.7 239.0L131.2 238.5L131.7 238.0L132.2 237.4L132.7 236.9L133.2 236.3L133.7 235.7L134.2 235.1L134.7 234.4L135.3 233.8L135.8 233.0L136.3 232.3L136.8 231.5L137.3 230.6L137.8 229.8L138.3 228.9L138.8 228.0L139.3 227.0L139.9 226.1L140.4 225.1L140.9 224.1L141.4 223.1L141.9 222.1L142.4 221.0L142.9 219.9L143.4 218.7L143.9 217.5L144.5 216.2L145.0 214.8L145.5 213.3L146.0 211.6L146.5 209.8L147.0 207.9L147.5 205.9L148.0 203.7L148.5 201.5L149.1 199.3L149.6 197.0L150.1 194.6L150.6 192.3L151.1 189.7L151.6 186.9L152.1 183.9L152.6 181.0L153.1 178.3L153.7 176.0L154.2 174.2L154.7 172.5L155.2 170.9L155.7 169.5L156.2 168.2L156.7 167.3L157.2 166.7L157.7 166.7L158.3 167.0L158.8 167.7L159.3 168.6L159.8 169.8L160.3 171.0L160.8 172.3L161.3 173.8L161.8 175.9L162.3 178.2L162.9 180.6L163.4 182.7L163.9 184.5L164.4 186.2L164.9 187.9L165.4 189.5L165.9 191.2L166.4 193.0L166.9 194.9L167.5 196.9L168.0 198.9L168.5 200.9L169.0 203.0L169.5 205.0L170.0 207.0L170.5 208.9L171.0 210.8L171.5 212.6L172.1 214.2L172.6 215.8L173.1 217.3L173.6 218.7L174.1 220.1L174.6 221.5L175.1 222.9L175.6 224.2L176.2 225.5L176.7 226.7L177.2 228.0L177.7 229.2L178.2 230.4L178.7 231.6L179.2 232.8L179.7 233.9L180.2 235.1L180.8 236.3L181.3 237.5L181.8 238.7L182.3 239.9L182.8 241.1L183.3 242.2L183.8 243.3L184.3 244.3L184.8 245.2L185.4 246.1L185.9 246.8L186.4 247.4L186.9 248.1L187.4 248.7L187.9 249.3L188.4 249.8L188.9 250.4L189.4 250.8L190.0 251.3L190.5 251.7L191.0 252.0L191.5 252.2L192.0 252.4L192.5 252.6L193.0 252.7L193.5 252.9L194.0 253.0L194.6 253.1L195.1 253.2L195.6 253.4L196.1 253.5L196.6 253.6L197.1 253.6L197.6 253.7L198.1 253.8L198.6 253.9L199.2 253.9L199.7 254.0L200.2 254.0L200.7 254.1L201.2 254.1L201.7 254.1L202.2 254.2L202.7 254.2L203.2 254.2L203.8 254.2L204.3 254.2L204.8 254.2L205.3 254.3L205.8 254.3L206.3 254.3L206.8 254.3L207.3 254.3L207.8 254.3L208.4 254.3L208.9 254.3L209.4 254.4L209.9 254.4L210.4 254.4L210.9 254.4L211.4 254.4L211.9 254.4L212.5 254.4L213.0 254.4L213.5 254.4L214.0 254.4L214.5 254.5L215.0 254.5L215.5 254.5L216.0 254.5L216.5 254.5L217.1 254.5L217.6 254.5L218.1 254.5L218.6 254.5L219.1 254.5L219.6 254.5L220.1 254.5L220.6 254.5L221.1 254.5L221.7 254.5L222.2 254.6L222.7 254.6L223.2 254.6L223.7 254.6L224.2 254.6L224.7 254.6L225.2 254.6L225.7 254.6L226.3 254.6L226.8 254.6L227.3 254.6L227.8 254.6L228.3 254.6L228.8 254.6L229.3 254.6L229.8 254.6L230.3 254.6L230.9 254.6L231.4 254.6L231.9 254.6L232.4 254.6L232.9 254.6" fill="none" stroke="#0b9b2e" stroke-width="1.90" stroke-linejoin="round"/>
<path d="M28.4 245.9L28.9 245.9L29.4 245.9L29.9 245.9L30.4 245.9L31.0 245.9L31.5 245.9L32.0 245.8L32.5 245.8L33.0 245.8L33.5 245.8L34.0 245.8L34.5 245.8L35.0 245.8L35.6 245.8L36.1 245.8L36.6 245.7L37.1 245.7L37.6 245.7L38.1 245.7L38.6 245.7L39.1 245.7L39.6 245.7L40.2 245.7L40.7 245.7L41.2 245.6L41.7 245.6L42.2 245.6L42.7 245.6L43.2 245.6L43.7 245.6L44.2 245.6L44.8 245.6L45.3 245.6L45.8 245.6L46.3 245.5L46.8 245.5L47.3 245.5L47.8 245.5L48.3 245.5L48.9 245.5L49.4 245.5L49.9 245.5L50.4 245.5L50.9 245.5L51.4 245.5L51.9 245.4L52.4 245.4L52.9 245.4L53.5 245.4L54.0 245.4L54.5 245.4L55.0 245.4L55.5 245.4L56.0 245.4L56.5 245.4L57.0 245.3L57.5 245.3L58.1 245.3L58.6 245.3L59.1 245.3L59.6 245.3L60.1 245.3L60.6 245.3L61.1 245.3L61.6 245.3L62.1 245.3L62.7 245.2L63.2 245.2L63.7 245.2L64.2 245.2L64.7 245.2L65.2 245.2L65.7 245.2L66.2 245.2L66.7 245.2L67.3 245.2L67.8 245.2L68.3 245.2L68.8 245.1L69.3 245.1L69.8 245.1L70.3 245.1L70.8 245.1L71.3 245.1L71.9 245.1L72.4 245.1L72.9 245.1L73.4 245.1L73.9 245.1L74.4 245.1L74.9 245.1L75.4 245.1L75.9 245.1L76.5 245.1L77.0 245.1L77.5 245.1L78.0 245.1L78.5 245.1L79.0 245.1L79.5 245.1L80.0 245.1L80.5 245.1L81.1 245.1L81.6 245.1L82.1 245.1L82.6 245.2L83.1 245.2L83.6 245.2L84.1 245.3L84.6 245.3L85.1 245.3L85.7 245.4L86.2 245.4L86.7 245.5L87.2 245.5L87.7 245.6L88.2 245.7L88.7 245.7L89.2 245.8L89.8 245.8L90.3 245.9L90.8 245.9L91.3 246.0L91.8 246.1L92.3 246.1L92.8 246.2L93.3 246.2L93.8 246.3L94.4 246.3L94.9 246.4L95.4 246.4L95.9 246.5L96.4 246.5L96.9 246.6L97.4 246.6L97.9 246.7L98.4 246.8L99.0 246.8L99.5 246.9L100.0 247.0L100.5 247.0L101.0 247.1L101.5 247.1L102.0 247.2L102.5 247.3L103.0 247.3L103.6 247.4L104.1 247.5L104.6 247.5L105.1 247.6L105.6 247.6L106.1 247.7L106.6 247.7L107.1 247.7L107.6 247.8L108.2 247.8L108.7 247.8L109.2 247.8L109.7 247.8L110.2 247.8L110.7 247.8L111.2 247.8L111.7 247.8L112.2 247.8L112.8 247.8L113.3 247.8L113.8 247.8L114.3 247.8L114.8 247.8L115.3 247.8L115.8 247.8L116.3 247.7L116.8 247.7L117.4 247.7L117.9 247.7L118.4 247.7L118.9 247.6L119.4 247.6L119.9 247.6L120.4 247.6L120.9 247.5L121.4 247.5L122.0 247.5L122.5 247.5L123.0 247.4L123.5 247.4L124.0 247.3L124.5 247.3L125.0 247.2L125.5 247.1L126.0 247.0L126.6 246.9L127.1 246.8L127.6 246.7L128.1 246.6L128.6 246.5L129.1 246.3L129.6 246.2L130.1 246.1L130.7 245.9L131.2 245.8L131.7 245.6L132.2 245.4L132.7 245.1L133.2 244.8L133.7 244.5L134.2 244.2L134.7 243.9L135.3 243.5L135.8 243.2L136.3 242.8L136.8 242.4L137.3 242.0L137.8 241.6L138.3 241.2L138.8 240.7L139.3 240.2L139.9 239.7L140.4 239.1L140.9 238.6L141.4 237.9L141.9 237.3L142.4 236.6L142.9 235.9L143.4 235.1L143.9 234.3L144.5 233.3L145.0 232.3L145.5 231.2L146.0 230.0L146.5 228.8L147.0 227.6L147.5 226.3L148.0 225.1L148.5 224.0L149.1 222.8L149.6 221.6L150.1 220.4L150.6 219.2L151.1 217.9L151.6 216.5L152.1 215.1L152.6 213.6L153.1 212.0L153.7 210.2L154.2 208.4L154.7 206.5L155.2 204.6L155.7 202.5L156.2 200.5L156.7 198.3L157.2 196.2L157.7 194.0L158.3 191.8L158.8 189.4L159.3 186.7L159.8 183.9L160.3 181.2L160.8 178.6L161.3 176.5L161.8 174.9L162.3 173.5L162.9 172.3L163.4 171.0L163.9 169.9L164.4 168.9L164.9 168.1L165.4 167.5L165.9 167.2L166.4 167.1L166.9 167.4L167.5 168.1L168.0 169.1L168.5 170.4L169.0 171.8L169.5 173.3L170.0 174.9L170.5 176.7L171.0 179.1L171.5 181.8L172.1 184.7L172.6 187.6L173.1 190.4L173.6 192.7L174.1 194.9L174.6 197.0L175.1 199.1L175.6 201.1L176.2 203.1L176.7 205.0L177.2 206.8L177.7 208.7L178.2 210.4L178.7 212.2L179.2 213.9L179.7 215.5L180.2 217.2L180.8 218.7L181.3 220.3L181.8 221.8L182.3 223.3L182.8 224.8L183.3 226.2L183.8 227.7L184.3 229.1L184.8 230.4L185.4 231.8L185.9 233.2L186.4 234.6L186.9 235.9L187.4 237.4L187.9 238.8L188.4 240.3L188.9 241.8L189.4 243.2L190.0 244.6L190.5 245.8L191.0 246.9L191.5 247.8L192.0 248.5L192.5 249.1L193.0 249.7L193.5 250.3L194.0 250.8L194.6 251.3L195.1 251.7L195.6 252.1L196.1 252.5L196.6 252.8L197.1 253.0L197.6 253.2L198.1 253.3L198.6 253.4L199.2 253.4L199.7 253.5L200.2 253.6L200.7 253.6L201.2 253.7L201.7 253.8L202.2 253.8L202.7 253.9L203.2 253.9L203.8 254.0L204.3 254.0L204.8 254.0L205.3 254.1L205.8 254.1L206.3 254.2L206.8 254.2L207.3 254.2L207.8 254.2L208.4 254.3L208.9 254.3L209.4 254.3L209.9 254.3L210.4 254.3L210.9 254.3L211.4 254.3L211.9 254.3L212.5 254.3L213.0 254.3L213.5 254.3L214.0 254.3L214.5 254.3L215.0 254.3L215.5 254.3L216.0 254.3L216.5 254.3L217.1 254.3L217.6 254.3L218.1 254.3L218.6 254.3L219.1 254.3L219.6 254.3L220.1 254.3L220.6 254.3L221.1 254.3L221.7 254.3L222.2 254.3L222.7 254.3L223.2 254.3L223.7 254.3L224.2 254.3L224.7 254.3L225.2 254.3L225.7 254.3L226.3 254.3L226.8 254.3L227.3 254.3L227.8 254.3L228.3 254.3L228.8 254.3L229.3 254.3L229.8 254.3L230.3 254.3L230.9 254.3L231.4 254.3L231.9 254.3L232.4 254.3L232.9 254.3" fill="none" stroke="#0b9b2e" stroke-width="1.90" stroke-linejoin="round" stroke-dasharray="3.4 1.5"/>
<line x1="32.90" y1="221.10" x2="51.80" y2="221.10" stroke="#0b9b2e" stroke-width="1.90"/>
<text x="53.70" y="223.30" font-size="7.9" fill="#111" stroke="#111" stroke-width="0.18" xml:space="preserve"><tspan font-weight="normal">Z-</tspan><tspan font-weight="bold">1</tspan></text>
<line x1="32.90" y1="233.00" x2="51.80" y2="233.00" stroke="#0b9b2e" stroke-width="1.90" stroke-dasharray="3.4 1.5"/>
<text x="53.70" y="235.20" font-size="7.9" fill="#111" stroke="#111" stroke-width="0.18" xml:space="preserve"><tspan font-weight="normal">Z-</tspan><tspan font-weight="bold">1</tspan><tspan font-weight="normal"> + </tspan><tspan font-weight="bold">23</tspan></text>
<rect x="267.20" y="153.20" width="204.60" height="104.00" fill="none" stroke="#bcbcbc" stroke-width="1.1"/>
<line x1="264.60" y1="257.20" x2="267.20" y2="257.20" stroke="#bcbcbc" stroke-width="0.9"/>
<text x="262.00" y="259.25" font-size="5.8" text-anchor="end" fill="#555">0</text>
<line x1="264.60" y1="239.87" x2="267.20" y2="239.87" stroke="#bcbcbc" stroke-width="0.9"/>
<text x="262.00" y="241.92" font-size="5.8" text-anchor="end" fill="#555">0.2</text>
<line x1="264.60" y1="222.53" x2="267.20" y2="222.53" stroke="#bcbcbc" stroke-width="0.9"/>
<text x="262.00" y="224.58" font-size="5.8" text-anchor="end" fill="#555">0.4</text>
<line x1="264.60" y1="205.20" x2="267.20" y2="205.20" stroke="#bcbcbc" stroke-width="0.9"/>
<text x="262.00" y="207.25" font-size="5.8" text-anchor="end" fill="#555">0.6</text>
<line x1="264.60" y1="187.86" x2="267.20" y2="187.86" stroke="#bcbcbc" stroke-width="0.9"/>
<text x="262.00" y="189.91" font-size="5.8" text-anchor="end" fill="#555">0.8</text>
<line x1="264.60" y1="170.53" x2="267.20" y2="170.53" stroke="#bcbcbc" stroke-width="0.9"/>
<text x="262.00" y="172.58" font-size="5.8" text-anchor="end" fill="#555">1</text>
<line x1="264.60" y1="153.20" x2="267.20" y2="153.20" stroke="#bcbcbc" stroke-width="0.9"/>
<text x="262.00" y="155.25" font-size="5.8" text-anchor="end" fill="#555">1.2</text>
<line x1="267.20" y1="257.20" x2="267.20" y2="259.40" stroke="#bcbcbc" stroke-width="0.9"/>
<text x="271.10" y="268.70" font-size="9.5" text-anchor="middle" fill="#222" textLength="14.0" lengthAdjust="spacingAndGlyphs">300</text>
<line x1="318.35" y1="257.20" x2="318.35" y2="259.40" stroke="#bcbcbc" stroke-width="0.9"/>
<text x="320.20" y="268.70" font-size="9.5" text-anchor="middle" fill="#222" textLength="14.0" lengthAdjust="spacingAndGlyphs">350</text>
<line x1="369.50" y1="257.20" x2="369.50" y2="259.40" stroke="#bcbcbc" stroke-width="0.9"/>
<text x="371.30" y="268.70" font-size="9.5" text-anchor="middle" fill="#222" textLength="14.0" lengthAdjust="spacingAndGlyphs">400</text>
<line x1="420.65" y1="257.20" x2="420.65" y2="259.40" stroke="#bcbcbc" stroke-width="0.9"/>
<text x="422.80" y="268.70" font-size="9.5" text-anchor="middle" fill="#222" textLength="14.0" lengthAdjust="spacingAndGlyphs">450</text>
<line x1="471.80" y1="257.20" x2="471.80" y2="259.40" stroke="#bcbcbc" stroke-width="0.9"/>
<text x="473.00" y="268.70" font-size="9.5" text-anchor="middle" fill="#222" textLength="14.0" lengthAdjust="spacingAndGlyphs">500</text>
<text x="389.30" y="278.20" font-size="9.3" text-anchor="middle" fill="#2e2e2e" textLength="23" lengthAdjust="spacingAndGlyphs">λ, nm</text>
<text transform="translate(248.50 205.50) rotate(-90)" x="0" y="0" font-size="6.1" text-anchor="middle" dominant-baseline="central" fill="#3a3a3a" textLength="30.0" lengthAdjust="spacingAndGlyphs">Absorbance</text>
<path d="M267.2 245.1L267.7 245.1L268.2 245.1L268.7 245.1L269.2 245.0L269.8 245.0L270.3 245.0L270.8 245.0L271.3 245.0L271.8 245.0L272.3 245.0L272.8 245.0L273.3 245.0L273.8 245.0L274.4 245.0L274.9 245.0L275.4 245.0L275.9 245.0L276.4 245.0L276.9 245.0L277.4 245.0L277.9 245.0L278.5 245.0L279.0 245.0L279.5 245.0L280.0 245.0L280.5 245.0L281.0 244.9L281.5 244.9L282.0 244.9L282.5 244.9L283.1 244.9L283.6 244.9L284.1 244.9L284.6 244.9L285.1 244.9L285.6 244.9L286.1 244.9L286.6 244.9L287.1 244.9L287.7 244.9L288.2 244.9L288.7 244.9L289.2 244.9L289.7 244.9L290.2 244.9L290.7 244.9L291.2 244.9L291.8 244.9L292.3 244.8L292.8 244.8L293.3 244.8L293.8 244.8L294.3 244.8L294.8 244.8L295.3 244.8L295.8 244.8L296.4 244.8L296.9 244.8L297.4 244.8L297.9 244.8L298.4 244.8L298.9 244.8L299.4 244.8L299.9 244.8L300.4 244.8L301.0 244.8L301.5 244.7L302.0 244.7L302.5 244.7L303.0 244.7L303.5 244.7L304.0 244.7L304.5 244.7L305.1 244.7L305.6 244.7L306.1 244.7L306.6 244.7L307.1 244.7L307.6 244.7L308.1 244.7L308.6 244.7L309.1 244.7L309.7 244.7L310.2 244.7L310.7 244.7L311.2 244.7L311.7 244.7L312.2 244.7L312.7 244.6L313.2 244.6L313.7 244.6L314.3 244.6L314.8 244.6L315.3 244.6L315.8 244.6L316.3 244.6L316.8 244.6L317.3 244.6L317.8 244.6L318.4 244.6L318.9 244.6L319.4 244.6L319.9 244.7L320.4 244.7L320.9 244.7L321.4 244.7L321.9 244.7L322.4 244.8L323.0 244.8L323.5 244.9L324.0 244.9L324.5 244.9L325.0 245.0L325.5 245.0L326.0 245.1L326.5 245.1L327.0 245.2L327.6 245.3L328.1 245.3L328.6 245.4L329.1 245.4L329.6 245.5L330.1 245.5L330.6 245.6L331.1 245.7L331.6 245.7L332.2 245.8L332.7 245.8L333.2 245.9L333.7 245.9L334.2 246.0L334.7 246.0L335.2 246.1L335.7 246.2L336.3 246.2L336.8 246.3L337.3 246.4L337.8 246.5L338.3 246.6L338.8 246.6L339.3 246.7L339.8 246.8L340.3 246.9L340.9 247.0L341.4 247.1L341.9 247.1L342.4 247.2L342.9 247.3L343.4 247.4L343.9 247.4L344.4 247.5L344.9 247.6L345.5 247.6L346.0 247.7L346.5 247.7L347.0 247.8L347.5 247.8L348.0 247.9L348.5 247.9L349.0 247.9L349.6 247.9L350.1 247.9L350.6 247.9L351.1 247.9L351.6 247.9L352.1 247.8L352.6 247.8L353.1 247.7L353.6 247.7L354.2 247.6L354.7 247.5L355.2 247.4L355.7 247.3L356.2 247.2L356.7 247.1L357.2 247.0L357.7 246.8L358.2 246.7L358.8 246.6L359.3 246.4L359.8 246.3L360.3 246.1L360.8 245.9L361.3 245.8L361.8 245.6L362.3 245.4L362.9 245.2L363.4 244.9L363.9 244.5L364.4 244.1L364.9 243.6L365.4 243.2L365.9 242.7L366.4 242.2L366.9 241.7L367.5 241.2L368.0 240.7L368.5 240.3L369.0 239.8L369.5 239.4L370.0 238.9L370.5 238.5L371.0 238.0L371.5 237.5L372.1 237.0L372.6 236.5L373.1 235.9L373.6 235.3L374.1 234.7L374.6 234.0L375.1 233.3L375.6 232.5L376.1 231.7L376.7 230.8L377.2 229.9L377.7 229.0L378.2 228.1L378.7 227.1L379.2 226.1L379.7 225.1L380.2 224.1L380.8 223.1L381.3 222.1L381.8 221.0L382.3 219.9L382.8 218.7L383.3 217.5L383.8 216.2L384.3 214.8L384.8 213.3L385.4 211.6L385.9 209.8L386.4 207.9L386.9 205.9L387.4 203.7L387.9 201.5L388.4 199.3L388.9 197.0L389.4 194.6L390.0 192.3L390.5 189.8L391.0 186.9L391.5 184.0L392.0 181.1L392.5 178.4L393.0 176.0L393.5 174.1L394.1 172.2L394.6 170.4L395.1 168.8L395.6 167.5L396.1 166.8L396.6 166.7L397.1 167.1L397.6 167.9L398.1 169.0L398.7 170.3L399.2 171.7L399.7 173.1L400.2 174.8L400.7 176.8L401.2 179.1L401.7 181.4L402.2 183.5L402.7 185.6L403.3 187.8L403.8 189.9L404.3 191.9L404.8 193.8L405.3 195.8L405.8 197.7L406.3 199.6L406.8 201.4L407.4 203.3L407.9 205.1L408.4 206.8L408.9 208.6L409.4 210.3L409.9 211.9L410.4 213.6L410.9 215.2L411.4 216.7L412.0 218.3L412.5 219.8L413.0 221.3L413.5 222.8L414.0 224.2L414.5 225.6L415.0 227.0L415.5 228.4L416.0 229.7L416.6 231.1L417.1 232.4L417.6 233.6L418.1 234.9L418.6 236.1L419.1 237.3L419.6 238.5L420.1 239.8L420.6 241.0L421.2 242.1L421.7 243.2L422.2 244.2L422.7 245.2L423.2 246.0L423.7 246.8L424.2 247.5L424.7 248.2L425.3 248.8L425.8 249.5L426.3 250.1L426.8 250.7L427.3 251.2L427.8 251.7L428.3 252.1L428.8 252.4L429.3 252.7L429.9 252.9L430.4 253.0L430.9 253.1L431.4 253.3L431.9 253.4L432.4 253.5L432.9 253.6L433.4 253.7L433.9 253.7L434.5 253.8L435.0 253.9L435.5 254.0L436.0 254.0L436.5 254.1L437.0 254.1L437.5 254.1L438.0 254.2L438.6 254.2L439.1 254.2L439.6 254.3L440.1 254.3L440.6 254.3L441.1 254.3L441.6 254.4L442.1 254.4L442.6 254.4L443.2 254.4L443.7 254.4L444.2 254.5L444.7 254.5L445.2 254.5L445.7 254.5L446.2 254.5L446.7 254.5L447.2 254.6L447.8 254.6L448.3 254.6L448.8 254.6L449.3 254.6L449.8 254.6L450.3 254.6L450.8 254.6L451.3 254.6L451.9 254.6L452.4 254.6L452.9 254.6L453.4 254.6L453.9 254.6L454.4 254.6L454.9 254.6L455.4 254.6L455.9 254.6L456.5 254.6L457.0 254.6L457.5 254.6L458.0 254.6L458.5 254.6L459.0 254.6L459.5 254.6L460.0 254.6L460.5 254.6L461.1 254.6L461.6 254.6L462.1 254.6L462.6 254.6L463.1 254.6L463.6 254.6L464.1 254.6L464.6 254.6L465.2 254.6L465.7 254.6L466.2 254.6L466.7 254.6L467.2 254.6L467.7 254.6L468.2 254.6L468.7 254.6L469.2 254.6L469.8 254.6L470.3 254.6L470.8 254.6L471.3 254.6L471.8 254.6" fill="none" stroke="#0b9b2e" stroke-width="1.90" stroke-linejoin="round"/>
<path d="M267.2 245.1L267.7 245.1L268.2 245.1L268.7 245.1L269.2 245.0L269.8 245.0L270.3 245.0L270.8 245.0L271.3 245.0L271.8 245.0L272.3 245.0L272.8 245.0L273.3 245.0L273.8 245.0L274.4 245.0L274.9 245.0L275.4 245.0L275.9 245.0L276.4 245.0L276.9 245.0L277.4 245.0L277.9 245.0L278.5 245.0L279.0 245.0L279.5 245.0L280.0 245.0L280.5 245.0L281.0 244.9L281.5 244.9L282.0 244.9L282.5 244.9L283.1 244.9L283.6 244.9L284.1 244.9L284.6 244.9L285.1 244.9L285.6 244.9L286.1 244.9L286.6 244.9L287.1 244.9L287.7 244.9L288.2 244.9L288.7 244.9L289.2 244.9L289.7 244.9L290.2 244.9L290.7 244.9L291.2 244.9L291.8 244.9L292.3 244.8L292.8 244.8L293.3 244.8L293.8 244.8L294.3 244.8L294.8 244.8L295.3 244.8L295.8 244.8L296.4 244.8L296.9 244.8L297.4 244.8L297.9 244.8L298.4 244.8L298.9 244.8L299.4 244.8L299.9 244.8L300.4 244.8L301.0 244.8L301.5 244.7L302.0 244.7L302.5 244.7L303.0 244.7L303.5 244.7L304.0 244.7L304.5 244.7L305.1 244.7L305.6 244.7L306.1 244.7L306.6 244.7L307.1 244.7L307.6 244.7L308.1 244.7L308.6 244.7L309.1 244.7L309.7 244.7L310.2 244.7L310.7 244.7L311.2 244.7L311.7 244.7L312.2 244.7L312.7 244.6L313.2 244.6L313.7 244.6L314.3 244.6L314.8 244.6L315.3 244.6L315.8 244.6L316.3 244.6L316.8 244.6L317.3 244.6L317.8 244.6L318.4 244.6L318.9 244.6L319.4 244.6L319.9 244.7L320.4 244.7L320.9 244.7L321.4 244.7L321.9 244.7L322.4 244.8L323.0 244.8L323.5 244.9L324.0 244.9L324.5 244.9L325.0 245.0L325.5 245.0L326.0 245.1L326.5 245.1L327.0 245.2L327.6 245.2L328.1 245.3L328.6 245.4L329.1 245.4L329.6 245.5L330.1 245.5L330.6 245.6L331.1 245.7L331.6 245.7L332.2 245.8L332.7 245.8L333.2 245.9L333.7 245.9L334.2 246.0L334.7 246.0L335.2 246.1L335.7 246.2L336.3 246.3L336.8 246.3L337.3 246.4L337.8 246.5L338.3 246.6L338.8 246.7L339.3 246.8L339.8 246.9L340.3 247.0L340.9 247.0L341.4 247.1L341.9 247.2L342.4 247.3L342.9 247.4L343.4 247.5L343.9 247.6L344.4 247.6L344.9 247.7L345.5 247.8L346.0 247.8L346.5 247.9L347.0 247.9L347.5 248.0L348.0 248.0L348.5 248.1L349.0 248.1L349.6 248.1L350.1 248.1L350.6 248.1L351.1 248.1L351.6 248.1L352.1 248.1L352.6 248.0L353.1 248.0L353.6 248.0L354.2 248.0L354.7 247.9L355.2 247.9L355.7 247.8L356.2 247.8L356.7 247.7L357.2 247.7L357.7 247.6L358.2 247.5L358.8 247.5L359.3 247.4L359.8 247.3L360.3 247.3L360.8 247.2L361.3 247.1L361.8 247.0L362.3 246.9L362.9 246.8L363.4 246.7L363.9 246.5L364.4 246.3L364.9 246.1L365.4 245.8L365.9 245.6L366.4 245.3L366.9 245.0L367.5 244.8L368.0 244.5L368.5 244.2L369.0 243.9L369.5 243.6L370.0 243.3L370.5 242.9L371.0 242.6L371.5 242.2L372.1 241.9L372.6 241.5L373.1 241.1L373.6 240.7L374.1 240.3L374.6 239.9L375.1 239.5L375.6 239.1L376.1 238.7L376.7 238.2L377.2 237.8L377.7 237.4L378.2 236.9L378.7 236.4L379.2 235.8L379.7 235.2L380.2 234.5L380.8 233.7L381.3 232.8L381.8 231.8L382.3 230.8L382.8 229.7L383.3 228.5L383.8 227.4L384.3 226.2L384.8 225.1L385.4 224.0L385.9 223.0L386.4 221.9L386.9 220.7L387.4 219.6L387.9 218.4L388.4 217.2L388.9 215.9L389.4 214.5L390.0 213.0L390.5 211.4L391.0 209.7L391.5 207.8L392.0 205.9L392.5 204.0L393.0 202.0L393.5 200.0L394.1 198.0L394.6 196.0L395.1 194.1L395.6 192.3L396.1 190.4L396.6 188.5L397.1 186.6L397.6 184.7L398.1 182.8L398.7 181.1L399.2 179.6L399.7 178.3L400.2 177.2L400.7 176.1L401.2 175.1L401.7 174.3L402.2 173.6L402.7 173.1L403.3 172.8L403.8 172.5L404.3 172.2L404.8 172.0L405.3 171.9L405.8 171.9L406.3 172.2L406.8 172.9L407.4 173.9L407.9 175.0L408.4 176.2L408.9 177.5L409.4 179.0L409.9 180.9L410.4 183.1L410.9 185.4L411.4 187.8L412.0 190.2L412.5 192.3L413.0 194.2L413.5 196.2L414.0 198.1L414.5 199.9L415.0 201.8L415.5 203.6L416.0 205.4L416.6 207.2L417.1 209.0L417.6 210.7L418.1 212.5L418.6 214.2L419.1 216.0L419.6 217.7L420.1 219.4L420.6 221.2L421.2 222.9L421.7 224.6L422.2 226.2L422.7 227.9L423.2 229.5L423.7 231.1L424.2 232.7L424.7 234.2L425.3 235.7L425.8 237.2L426.3 238.8L426.8 240.3L427.3 241.8L427.8 243.3L428.3 244.6L428.8 245.8L429.3 246.8L429.9 247.7L430.4 248.4L430.9 249.0L431.4 249.7L431.9 250.3L432.4 250.9L432.9 251.4L433.4 251.9L433.9 252.3L434.5 252.7L435.0 253.0L435.5 253.2L436.0 253.3L436.5 253.4L437.0 253.5L437.5 253.5L438.0 253.6L438.6 253.7L439.1 253.7L439.6 253.8L440.1 253.8L440.6 253.9L441.1 253.9L441.6 254.0L442.1 254.0L442.6 254.1L443.2 254.1L443.7 254.1L444.2 254.2L444.7 254.2L445.2 254.2L445.7 254.2L446.2 254.3L446.7 254.3L447.2 254.3L447.8 254.3L448.3 254.4L448.8 254.4L449.3 254.4L449.8 254.4L450.3 254.4L450.8 254.4L451.3 254.4L451.9 254.4L452.4 254.4L452.9 254.5L453.4 254.5L453.9 254.5L454.4 254.5L454.9 254.5L455.4 254.5L455.9 254.5L456.5 254.5L457.0 254.5L457.5 254.5L458.0 254.5L458.5 254.5L459.0 254.5L459.5 254.5L460.0 254.5L460.5 254.5L461.1 254.5L461.6 254.6L462.1 254.6L462.6 254.6L463.1 254.6L463.6 254.6L464.1 254.6L464.6 254.6L465.2 254.6L465.7 254.6L466.2 254.6L466.7 254.6L467.2 254.6L467.7 254.6L468.2 254.6L468.7 254.6L469.2 254.6L469.8 254.6L470.3 254.6L470.8 254.6L471.3 254.6L471.8 254.6" fill="none" stroke="#0b9b2e" stroke-width="1.70" stroke-linejoin="round" stroke-dasharray="1.2 1.35"/>
<line x1="273.70" y1="221.10" x2="293.00" y2="221.10" stroke="#0b9b2e" stroke-width="1.90"/>
<text x="294.90" y="223.30" font-size="7.9" fill="#111" stroke="#111" stroke-width="0.18" xml:space="preserve"><tspan font-weight="normal">Z-</tspan><tspan font-weight="bold">1</tspan></text>
<line x1="273.70" y1="233.00" x2="293.00" y2="233.00" stroke="#0b9b2e" stroke-width="1.70" stroke-dasharray="1.2 1.35"/>
<text x="294.90" y="235.20" font-size="7.9" fill="#111" stroke="#111" stroke-width="0.18" xml:space="preserve"><tspan font-weight="normal">Z-</tspan><tspan font-weight="bold">1</tspan><tspan font-weight="normal"> + </tspan><tspan font-weight="bold">24</tspan></text>
<rect x="28.40" y="284.40" width="204.50" height="104.20" fill="none" stroke="#bcbcbc" stroke-width="1.1"/>
<line x1="25.80" y1="388.60" x2="28.40" y2="388.60" stroke="#bcbcbc" stroke-width="0.9"/>
<text x="23.20" y="390.65" font-size="5.8" text-anchor="end" fill="#555">0</text>
<line x1="25.80" y1="367.76" x2="28.40" y2="367.76" stroke="#bcbcbc" stroke-width="0.9"/>
<text x="23.20" y="369.81" font-size="5.8" text-anchor="end" fill="#555">0.5</text>
<line x1="25.80" y1="346.92" x2="28.40" y2="346.92" stroke="#bcbcbc" stroke-width="0.9"/>
<text x="23.20" y="348.97" font-size="5.8" text-anchor="end" fill="#555">1</text>
<line x1="25.80" y1="326.08" x2="28.40" y2="326.08" stroke="#bcbcbc" stroke-width="0.9"/>
<text x="23.20" y="328.13" font-size="5.8" text-anchor="end" fill="#555">1.5</text>
<line x1="25.80" y1="305.24" x2="28.40" y2="305.24" stroke="#bcbcbc" stroke-width="0.9"/>
<text x="23.20" y="307.29" font-size="5.8" text-anchor="end" fill="#555">2</text>
<line x1="25.80" y1="284.40" x2="28.40" y2="284.40" stroke="#bcbcbc" stroke-width="0.9"/>
<text x="23.20" y="286.45" font-size="5.8" text-anchor="end" fill="#555">2.5</text>
<line x1="28.40" y1="388.60" x2="28.40" y2="390.80" stroke="#bcbcbc" stroke-width="0.9"/>
<text x="30.90" y="400.80" font-size="9.5" text-anchor="middle" fill="#222" textLength="14.0" lengthAdjust="spacingAndGlyphs">300</text>
<line x1="79.53" y1="388.60" x2="79.53" y2="390.80" stroke="#bcbcbc" stroke-width="0.9"/>
<text x="79.85" y="400.80" font-size="9.5" text-anchor="middle" fill="#222" textLength="14.0" lengthAdjust="spacingAndGlyphs">350</text>
<line x1="130.65" y1="388.60" x2="130.65" y2="390.80" stroke="#bcbcbc" stroke-width="0.9"/>
<text x="131.00" y="400.80" font-size="9.5" text-anchor="middle" fill="#222" textLength="14.0" lengthAdjust="spacingAndGlyphs">400</text>
<line x1="181.78" y1="388.60" x2="181.78" y2="390.80" stroke="#bcbcbc" stroke-width="0.9"/>
<text x="182.50" y="400.80" font-size="9.5" text-anchor="middle" fill="#222" textLength="14.0" lengthAdjust="spacingAndGlyphs">450</text>
<line x1="232.90" y1="388.60" x2="232.90" y2="390.80" stroke="#bcbcbc" stroke-width="0.9"/>
<text x="232.55" y="400.80" font-size="9.5" text-anchor="middle" fill="#222" textLength="14.0" lengthAdjust="spacingAndGlyphs">500</text>
<text x="149.20" y="410.00" font-size="9.3" text-anchor="middle" fill="#2e2e2e" textLength="23" lengthAdjust="spacingAndGlyphs">λ, nm</text>
<text transform="translate(9.20 338.00) rotate(-90)" x="0" y="0" font-size="6.1" text-anchor="middle" dominant-baseline="central" fill="#3a3a3a" textLength="30.0" lengthAdjust="spacingAndGlyphs">Absorbance</text>
<path d="M28.4 380.7L28.9 380.7L29.4 380.6L29.9 380.6L30.4 380.6L31.0 380.5L31.5 380.5L32.0 380.5L32.5 380.5L33.0 380.5L33.5 380.4L34.0 380.4L34.5 380.4L35.0 380.4L35.6 380.4L36.1 380.4L36.6 380.3L37.1 380.3L37.6 380.3L38.1 380.3L38.6 380.3L39.1 380.3L39.6 380.3L40.2 380.3L40.7 380.3L41.2 380.3L41.7 380.3L42.2 380.3L42.7 380.3L43.2 380.3L43.7 380.3L44.2 380.3L44.8 380.3L45.3 380.3L45.8 380.3L46.3 380.3L46.8 380.3L47.3 380.3L47.8 380.3L48.3 380.4L48.9 380.4L49.4 380.4L49.9 380.4L50.4 380.5L50.9 380.5L51.4 380.5L51.9 380.5L52.4 380.6L52.9 380.6L53.5 380.6L54.0 380.7L54.5 380.7L55.0 380.7L55.5 380.7L56.0 380.8L56.5 380.8L57.0 380.8L57.5 380.9L58.1 380.9L58.6 380.9L59.1 380.9L59.6 381.0L60.1 381.0L60.6 381.0L61.1 381.0L61.6 381.0L62.1 381.1L62.7 381.1L63.2 381.1L63.7 381.1L64.2 381.2L64.7 381.2L65.2 381.2L65.7 381.2L66.2 381.2L66.7 381.3L67.3 381.3L67.8 381.3L68.3 381.3L68.8 381.4L69.3 381.4L69.8 381.4L70.3 381.4L70.8 381.4L71.3 381.5L71.9 381.5L72.4 381.5L72.9 381.5L73.4 381.5L73.9 381.6L74.4 381.6L74.9 381.6L75.4 381.6L75.9 381.6L76.5 381.7L77.0 381.7L77.5 381.7L78.0 381.7L78.5 381.7L79.0 381.7L79.5 381.8L80.0 381.8L80.5 381.8L81.1 381.8L81.6 381.8L82.1 381.9L82.6 381.9L83.1 381.9L83.6 381.9L84.1 381.9L84.6 381.9L85.1 382.0L85.7 382.0L86.2 382.0L86.7 382.0L87.2 382.0L87.7 382.0L88.2 382.0L88.7 382.0L89.2 382.1L89.8 382.1L90.3 382.1L90.8 382.1L91.3 382.1L91.8 382.1L92.3 382.1L92.8 382.1L93.3 382.1L93.8 382.1L94.4 382.1L94.9 382.1L95.4 382.1L95.9 382.1L96.4 382.1L96.9 382.1L97.4 382.1L97.9 382.1L98.4 382.1L99.0 382.1L99.5 382.1L100.0 382.1L100.5 382.1L101.0 382.1L101.5 382.1L102.0 382.1L102.5 382.1L103.0 382.1L103.6 382.0L104.1 382.0L104.6 382.0L105.1 381.9L105.6 381.9L106.1 381.8L106.6 381.8L107.1 381.7L107.6 381.7L108.2 381.6L108.7 381.6L109.2 381.5L109.7 381.5L110.2 381.4L110.7 381.3L111.2 381.3L111.7 381.2L112.2 381.1L112.8 381.0L113.3 380.9L113.8 380.8L114.3 380.7L114.8 380.6L115.3 380.5L115.8 380.4L116.3 380.2L116.8 380.1L117.4 379.9L117.9 379.7L118.4 379.6L118.9 379.4L119.4 379.2L119.9 379.0L120.4 378.8L120.9 378.5L121.4 378.3L122.0 377.9L122.5 377.6L123.0 377.3L123.5 376.9L124.0 376.5L124.5 376.1L125.0 375.7L125.5 375.3L126.0 374.8L126.6 374.4L127.1 374.0L127.6 373.5L128.1 373.0L128.6 372.5L129.1 371.9L129.6 371.3L130.1 370.8L130.7 370.2L131.2 369.6L131.7 368.9L132.2 368.3L132.7 367.6L133.2 366.9L133.7 366.2L134.2 365.5L134.7 364.7L135.3 363.9L135.8 363.1L136.3 362.2L136.8 361.4L137.3 360.5L137.8 359.5L138.3 358.6L138.8 357.6L139.3 356.6L139.9 355.5L140.4 354.4L140.9 353.3L141.4 352.1L141.9 350.8L142.4 349.5L142.9 348.2L143.4 346.8L143.9 345.2L144.5 343.5L145.0 341.8L145.5 339.9L146.0 338.1L146.5 336.1L147.0 334.1L147.5 332.0L148.0 329.9L148.5 327.7L149.1 325.6L149.6 323.3L150.1 321.0L150.6 318.7L151.1 316.5L151.6 314.6L152.1 313.0L152.6 311.4L153.1 310.0L153.7 308.7L154.2 307.7L154.7 306.9L155.2 306.3L155.7 305.8L156.2 305.4L156.7 305.2L157.2 305.5L157.7 306.2L158.3 307.1L158.8 308.2L159.3 309.5L159.8 311.4L160.3 313.5L160.8 315.7L161.3 317.8L161.8 320.0L162.3 322.3L162.9 324.6L163.4 326.9L163.9 329.2L164.4 331.6L164.9 333.9L165.4 336.1L165.9 338.2L166.4 340.2L166.9 342.1L167.5 344.0L168.0 345.8L168.5 347.7L169.0 349.6L169.5 351.5L170.0 353.4L170.5 355.2L171.0 357.0L171.5 358.6L172.1 360.1L172.6 361.5L173.1 362.8L173.6 364.1L174.1 365.4L174.6 366.6L175.1 367.8L175.6 368.9L176.2 370.1L176.7 371.3L177.2 372.4L177.7 373.4L178.2 374.4L178.7 375.3L179.2 376.1L179.7 376.8L180.2 377.5L180.8 378.2L181.3 378.8L181.8 379.4L182.3 379.9L182.8 380.4L183.3 380.7L183.8 381.0L184.3 381.2L184.8 381.5L185.4 381.7L185.9 381.9L186.4 382.1L186.9 382.3L187.4 382.4L187.9 382.6L188.4 382.8L188.9 382.9L189.4 383.0L190.0 383.1L190.5 383.2L191.0 383.4L191.5 383.4L192.0 383.5L192.5 383.6L193.0 383.7L193.5 383.8L194.0 383.8L194.6 383.9L195.1 384.0L195.6 384.0L196.1 384.1L196.6 384.1L197.1 384.2L197.6 384.2L198.1 384.3L198.6 384.3L199.2 384.4L199.7 384.4L200.2 384.5L200.7 384.5L201.2 384.6L201.7 384.6L202.2 384.7L202.7 384.7L203.2 384.7L203.8 384.8L204.3 384.8L204.8 384.8L205.3 384.9L205.8 384.9L206.3 384.9L206.8 385.0L207.3 385.0L207.8 385.0L208.4 385.0L208.9 385.0L209.4 385.1L209.9 385.1L210.4 385.1L210.9 385.1L211.4 385.2L211.9 385.2L212.5 385.2L213.0 385.2L213.5 385.2L214.0 385.3L214.5 385.3L215.0 385.3L215.5 385.3L216.0 385.3L216.5 385.3L217.1 385.4L217.6 385.4L218.1 385.4L218.6 385.4L219.1 385.4L219.6 385.5L220.1 385.5L220.6 385.5L221.1 385.5L221.7 385.5L222.2 385.5L222.7 385.5L223.2 385.6L223.7 385.6L224.2 385.6L224.7 385.6L225.2 385.6L225.7 385.6L226.3 385.6L226.8 385.6L227.3 385.6L227.8 385.6L228.3 385.7L228.8 385.7L229.3 385.7L229.8 385.7L230.3 385.7L230.9 385.7L231.4 385.7L231.9 385.7L232.4 385.7L232.9 385.7" fill="none" stroke="#2181cc" stroke-width="1.80" stroke-linejoin="round"/>
<path d="M28.4 380.3L28.9 380.2L29.4 380.2L29.9 380.1L30.4 380.1L31.0 380.0L31.5 380.0L32.0 379.9L32.5 379.9L33.0 379.9L33.5 379.8L34.0 379.8L34.5 379.8L35.0 379.7L35.6 379.7L36.1 379.7L36.6 379.6L37.1 379.6L37.6 379.6L38.1 379.6L38.6 379.5L39.1 379.5L39.6 379.5L40.2 379.5L40.7 379.5L41.2 379.5L41.7 379.4L42.2 379.4L42.7 379.4L43.2 379.4L43.7 379.4L44.2 379.4L44.8 379.4L45.3 379.4L45.8 379.4L46.3 379.5L46.8 379.5L47.3 379.5L47.8 379.5L48.3 379.5L48.9 379.5L49.4 379.5L49.9 379.6L50.4 379.6L50.9 379.6L51.4 379.6L51.9 379.6L52.4 379.7L52.9 379.7L53.5 379.7L54.0 379.7L54.5 379.7L55.0 379.8L55.5 379.8L56.0 379.8L56.5 379.8L57.0 379.9L57.5 379.9L58.1 379.9L58.6 379.9L59.1 380.0L59.6 380.0L60.1 380.0L60.6 380.0L61.1 380.1L61.6 380.1L62.1 380.1L62.7 380.1L63.2 380.2L63.7 380.2L64.2 380.2L64.7 380.3L65.2 380.3L65.7 380.3L66.2 380.3L66.7 380.4L67.3 380.4L67.8 380.4L68.3 380.5L68.8 380.5L69.3 380.5L69.8 380.6L70.3 380.6L70.8 380.6L71.3 380.7L71.9 380.7L72.4 380.7L72.9 380.8L73.4 380.8L73.9 380.8L74.4 380.9L74.9 380.9L75.4 380.9L75.9 381.0L76.5 381.0L77.0 381.0L77.5 381.1L78.0 381.1L78.5 381.2L79.0 381.2L79.5 381.2L80.0 381.3L80.5 381.3L81.1 381.4L81.6 381.4L82.1 381.5L82.6 381.5L83.1 381.6L83.6 381.6L84.1 381.7L84.6 381.7L85.1 381.8L85.7 381.8L86.2 381.8L86.7 381.9L87.2 381.9L87.7 381.9L88.2 382.0L88.7 382.0L89.2 382.0L89.8 382.1L90.3 382.1L90.8 382.1L91.3 382.1L91.8 382.1L92.3 382.1L92.8 382.1L93.3 382.1L93.8 382.1L94.4 382.1L94.9 382.1L95.4 382.1L95.9 382.1L96.4 382.1L96.9 382.1L97.4 382.1L97.9 382.1L98.4 382.1L99.0 382.1L99.5 382.1L100.0 382.1L100.5 382.0L101.0 382.0L101.5 382.0L102.0 382.0L102.5 382.0L103.0 382.0L103.6 382.0L104.1 382.0L104.6 382.0L105.1 382.0L105.6 382.0L106.1 382.0L106.6 382.0L107.1 381.9L107.6 381.9L108.2 381.9L108.7 381.9L109.2 381.9L109.7 381.9L110.2 381.9L110.7 381.9L111.2 381.8L111.7 381.8L112.2 381.8L112.8 381.7L113.3 381.7L113.8 381.6L114.3 381.5L114.8 381.4L115.3 381.3L115.8 381.2L116.3 381.1L116.8 381.0L117.4 380.9L117.9 380.7L118.4 380.6L118.9 380.5L119.4 380.3L119.9 380.2L120.4 380.1L120.9 379.9L121.4 379.8L122.0 379.7L122.5 379.5L123.0 379.4L123.5 379.2L124.0 379.0L124.5 378.8L125.0 378.6L125.5 378.4L126.0 378.2L126.6 378.0L127.1 377.8L127.6 377.6L128.1 377.3L128.6 377.1L129.1 376.8L129.6 376.6L130.1 376.3L130.7 376.0L131.2 375.8L131.7 375.4L132.2 375.1L132.7 374.8L133.2 374.4L133.7 374.0L134.2 373.6L134.7 373.2L135.3 372.8L135.8 372.3L136.3 371.9L136.8 371.4L137.3 370.9L137.8 370.3L138.3 369.8L138.8 369.2L139.3 368.5L139.9 367.9L140.4 367.1L140.9 366.3L141.4 365.5L141.9 364.6L142.4 363.6L142.9 362.7L143.4 361.7L143.9 360.6L144.5 359.6L145.0 358.6L145.5 357.6L146.0 356.5L146.5 355.5L147.0 354.4L147.5 353.3L148.0 352.1L148.5 351.0L149.1 349.7L149.6 348.4L150.1 347.1L150.6 345.6L151.1 343.9L151.6 342.2L152.1 340.5L152.6 338.7L153.1 336.9L153.7 335.2L154.2 333.4L154.7 331.6L155.2 329.8L155.7 327.9L156.2 326.0L156.7 324.0L157.2 321.9L157.7 319.8L158.3 317.6L158.8 315.5L159.3 313.6L159.8 311.7L160.3 309.8L160.8 308.0L161.3 306.2L161.8 304.6L162.3 303.2L162.9 301.7L163.4 300.2L163.9 298.9L164.4 298.2L164.9 298.2L165.4 298.8L165.9 299.6L166.4 300.7L166.9 301.9L167.5 303.6L168.0 306.1L168.5 309.0L169.0 311.9L169.5 314.7L170.0 317.5L170.5 320.5L171.0 323.4L171.5 326.0L172.1 328.4L172.6 330.6L173.1 332.8L173.6 334.8L174.1 336.9L174.6 339.0L175.1 341.0L175.6 343.0L176.2 345.0L176.7 346.9L177.2 348.9L177.7 351.0L178.2 353.0L178.7 355.0L179.2 356.9L179.7 358.6L180.2 360.2L180.8 361.7L181.3 363.1L181.8 364.4L182.3 365.7L182.8 367.0L183.3 368.3L183.8 369.5L184.3 370.7L184.8 371.9L185.4 373.0L185.9 374.1L186.4 375.2L186.9 376.1L187.4 377.0L187.9 378.0L188.4 378.9L188.9 379.8L189.4 380.5L190.0 381.2L190.5 381.7L191.0 382.0L191.5 382.2L192.0 382.4L192.5 382.6L193.0 382.8L193.5 382.9L194.0 383.1L194.6 383.2L195.1 383.4L195.6 383.5L196.1 383.6L196.6 383.7L197.1 383.8L197.6 383.9L198.1 384.0L198.6 384.0L199.2 384.1L199.7 384.2L200.2 384.2L200.7 384.3L201.2 384.3L201.7 384.4L202.2 384.4L202.7 384.5L203.2 384.5L203.8 384.5L204.3 384.6L204.8 384.6L205.3 384.7L205.8 384.7L206.3 384.7L206.8 384.8L207.3 384.8L207.8 384.8L208.4 384.9L208.9 384.9L209.4 384.9L209.9 385.0L210.4 385.0L210.9 385.0L211.4 385.0L211.9 385.1L212.5 385.1L213.0 385.1L213.5 385.2L214.0 385.2L214.5 385.2L215.0 385.2L215.5 385.3L216.0 385.3L216.5 385.3L217.1 385.3L217.6 385.4L218.1 385.4L218.6 385.4L219.1 385.4L219.6 385.4L220.1 385.5L220.6 385.5L221.1 385.5L221.7 385.5L222.2 385.5L222.7 385.5L223.2 385.5L223.7 385.6L224.2 385.6L224.7 385.6L225.2 385.6L225.7 385.6L226.3 385.6L226.8 385.6L227.3 385.6L227.8 385.6L228.3 385.7L228.8 385.7L229.3 385.7L229.8 385.7L230.3 385.7L230.9 385.7L231.4 385.7L231.9 385.7L232.4 385.7L232.9 385.7" fill="none" stroke="#2181cc" stroke-width="1.70" stroke-linejoin="round" stroke-dasharray="3.4 1.5"/>
<line x1="32.90" y1="350.90" x2="51.60" y2="350.90" stroke="#2181cc" stroke-width="1.80"/>
<text x="53.50" y="353.10" font-size="7.9" fill="#111" stroke="#111" stroke-width="0.18" xml:space="preserve"><tspan font-weight="normal">Z-</tspan><tspan font-weight="bold">2</tspan></text>
<line x1="32.90" y1="363.10" x2="51.60" y2="363.10" stroke="#2181cc" stroke-width="1.70" stroke-dasharray="3.4 1.5"/>
<text x="53.50" y="365.30" font-size="7.9" fill="#111" stroke="#111" stroke-width="0.18" xml:space="preserve"><tspan font-weight="normal">Z-</tspan><tspan font-weight="bold">2</tspan><tspan font-weight="normal"> + </tspan><tspan font-weight="bold">23</tspan></text>
<rect x="267.20" y="284.40" width="204.60" height="104.10" fill="none" stroke="#bcbcbc" stroke-width="1.1"/>
<line x1="264.60" y1="388.50" x2="267.20" y2="388.50" stroke="#bcbcbc" stroke-width="0.9"/>
<text x="262.00" y="390.55" font-size="5.8" text-anchor="end" fill="#555">0</text>
<line x1="264.60" y1="367.68" x2="267.20" y2="367.68" stroke="#bcbcbc" stroke-width="0.9"/>
<text x="262.00" y="369.73" font-size="5.8" text-anchor="end" fill="#555">0.5</text>
<line x1="264.60" y1="346.86" x2="267.20" y2="346.86" stroke="#bcbcbc" stroke-width="0.9"/>
<text x="262.00" y="348.91" font-size="5.8" text-anchor="end" fill="#555">1</text>
<line x1="264.60" y1="326.04" x2="267.20" y2="326.04" stroke="#bcbcbc" stroke-width="0.9"/>
<text x="262.00" y="328.09" font-size="5.8" text-anchor="end" fill="#555">1.5</text>
<line x1="264.60" y1="305.22" x2="267.20" y2="305.22" stroke="#bcbcbc" stroke-width="0.9"/>
<text x="262.00" y="307.27" font-size="5.8" text-anchor="end" fill="#555">2</text>
<line x1="264.60" y1="284.40" x2="267.20" y2="284.40" stroke="#bcbcbc" stroke-width="0.9"/>
<text x="262.00" y="286.45" font-size="5.8" text-anchor="end" fill="#555">2.5</text>
<line x1="267.20" y1="388.50" x2="267.20" y2="390.70" stroke="#bcbcbc" stroke-width="0.9"/>
<text x="271.10" y="400.70" font-size="9.5" text-anchor="middle" fill="#222" textLength="14.0" lengthAdjust="spacingAndGlyphs">300</text>
<line x1="318.35" y1="388.50" x2="318.35" y2="390.70" stroke="#bcbcbc" stroke-width="0.9"/>
<text x="320.20" y="400.70" font-size="9.5" text-anchor="middle" fill="#222" textLength="14.0" lengthAdjust="spacingAndGlyphs">350</text>
<line x1="369.50" y1="388.50" x2="369.50" y2="390.70" stroke="#bcbcbc" stroke-width="0.9"/>
<text x="371.30" y="400.70" font-size="9.5" text-anchor="middle" fill="#222" textLength="14.0" lengthAdjust="spacingAndGlyphs">400</text>
<line x1="420.65" y1="388.50" x2="420.65" y2="390.70" stroke="#bcbcbc" stroke-width="0.9"/>
<text x="422.80" y="400.70" font-size="9.5" text-anchor="middle" fill="#222" textLength="14.0" lengthAdjust="spacingAndGlyphs">450</text>
<line x1="471.80" y1="388.50" x2="471.80" y2="390.70" stroke="#bcbcbc" stroke-width="0.9"/>
<text x="473.00" y="400.70" font-size="9.5" text-anchor="middle" fill="#222" textLength="14.0" lengthAdjust="spacingAndGlyphs">500</text>
<text x="389.30" y="409.90" font-size="9.3" text-anchor="middle" fill="#2e2e2e" textLength="23" lengthAdjust="spacingAndGlyphs">λ, nm</text>
<text transform="translate(248.50 338.00) rotate(-90)" x="0" y="0" font-size="6.1" text-anchor="middle" dominant-baseline="central" fill="#3a3a3a" textLength="30.0" lengthAdjust="spacingAndGlyphs">Absorbance</text>
<path d="M267.2 381.0L267.7 381.0L268.2 381.0L268.7 381.0L269.2 381.0L269.8 381.0L270.3 381.0L270.8 381.0L271.3 381.0L271.8 381.0L272.3 381.0L272.8 381.0L273.3 381.0L273.8 381.0L274.4 381.0L274.9 381.0L275.4 381.0L275.9 381.0L276.4 381.0L276.9 381.0L277.4 381.0L277.9 381.0L278.5 381.0L279.0 381.0L279.5 381.0L280.0 381.0L280.5 381.0L281.0 381.0L281.5 381.0L282.0 381.0L282.5 381.0L283.1 381.0L283.6 381.0L284.1 381.0L284.6 381.0L285.1 381.0L285.6 381.0L286.1 381.0L286.6 381.0L287.1 381.0L287.7 381.0L288.2 381.1L288.7 381.1L289.2 381.1L289.7 381.1L290.2 381.1L290.7 381.1L291.2 381.1L291.8 381.1L292.3 381.1L292.8 381.1L293.3 381.2L293.8 381.2L294.3 381.2L294.8 381.2L295.3 381.2L295.8 381.2L296.4 381.2L296.9 381.2L297.4 381.2L297.9 381.3L298.4 381.3L298.9 381.3L299.4 381.3L299.9 381.3L300.4 381.3L301.0 381.3L301.5 381.3L302.0 381.3L302.5 381.3L303.0 381.3L303.5 381.4L304.0 381.4L304.5 381.4L305.1 381.4L305.6 381.4L306.1 381.4L306.6 381.4L307.1 381.4L307.6 381.4L308.1 381.4L308.6 381.4L309.1 381.5L309.7 381.5L310.2 381.5L310.7 381.5L311.2 381.5L311.7 381.5L312.2 381.5L312.7 381.5L313.2 381.5L313.7 381.6L314.3 381.6L314.8 381.6L315.3 381.6L315.8 381.6L316.3 381.6L316.8 381.7L317.3 381.7L317.8 381.7L318.4 381.7L318.9 381.8L319.4 381.8L319.9 381.9L320.4 381.9L320.9 382.0L321.4 382.0L321.9 382.1L322.4 382.1L323.0 382.2L323.5 382.2L324.0 382.3L324.5 382.3L325.0 382.3L325.5 382.4L326.0 382.4L326.5 382.5L327.0 382.5L327.6 382.6L328.1 382.6L328.6 382.6L329.1 382.7L329.6 382.7L330.1 382.7L330.6 382.7L331.1 382.7L331.6 382.8L332.2 382.8L332.7 382.8L333.2 382.7L333.7 382.7L334.2 382.7L334.7 382.7L335.2 382.7L335.7 382.7L336.3 382.7L336.8 382.6L337.3 382.6L337.8 382.6L338.3 382.6L338.8 382.5L339.3 382.5L339.8 382.5L340.3 382.4L340.9 382.4L341.4 382.4L341.9 382.3L342.4 382.3L342.9 382.2L343.4 382.2L343.9 382.2L344.4 382.1L344.9 382.1L345.5 382.0L346.0 382.0L346.5 381.9L347.0 381.9L347.5 381.8L348.0 381.7L348.5 381.7L349.0 381.6L349.6 381.5L350.1 381.4L350.6 381.3L351.1 381.2L351.6 381.1L352.1 381.0L352.6 380.9L353.1 380.8L353.6 380.7L354.2 380.6L354.7 380.5L355.2 380.3L355.7 380.2L356.2 380.0L356.7 379.9L357.2 379.7L357.7 379.5L358.2 379.3L358.8 379.1L359.3 378.8L359.8 378.6L360.3 378.4L360.8 378.1L361.3 377.9L361.8 377.6L362.3 377.3L362.9 377.0L363.4 376.7L363.9 376.3L364.4 376.0L364.9 375.6L365.4 375.2L365.9 374.8L366.4 374.3L366.9 373.9L367.5 373.4L368.0 372.9L368.5 372.3L369.0 371.8L369.5 371.2L370.0 370.6L370.5 369.9L371.0 369.3L371.5 368.6L372.1 367.9L372.6 367.1L373.1 366.4L373.6 365.6L374.1 364.7L374.6 363.9L375.1 363.0L375.6 362.1L376.1 361.1L376.7 360.1L377.2 359.1L377.7 358.1L378.2 357.1L378.7 356.0L379.2 354.8L379.7 353.7L380.2 352.4L380.8 351.2L381.3 349.8L381.8 348.4L382.3 347.0L382.8 345.4L383.3 343.7L383.8 341.8L384.3 340.0L384.8 338.0L385.4 336.1L385.9 334.1L386.4 332.0L386.9 329.8L387.4 327.7L387.9 325.6L388.4 323.3L388.9 321.0L389.4 318.7L390.0 316.5L390.5 314.6L391.0 312.9L391.5 311.4L392.0 310.0L392.5 308.7L393.0 307.7L393.5 307.0L394.1 306.4L394.6 305.9L395.1 305.7L395.6 305.7L396.1 306.1L396.6 306.8L397.1 307.6L397.6 308.6L398.1 310.2L398.7 312.4L399.2 314.7L399.7 317.0L400.2 319.5L400.7 322.1L401.2 324.6L401.7 326.8L402.2 328.9L402.7 330.8L403.3 332.6L403.8 334.4L404.3 336.1L404.8 337.9L405.3 339.7L405.8 341.4L406.3 343.1L406.8 344.8L407.4 346.6L407.9 348.4L408.4 350.3L408.9 352.3L409.4 354.2L409.9 356.1L410.4 357.9L410.9 359.4L411.4 360.9L412.0 362.3L412.5 363.7L413.0 365.0L413.5 366.2L414.0 367.5L414.5 368.8L415.0 370.1L415.5 371.5L416.0 372.8L416.6 374.1L417.1 375.3L417.6 376.3L418.1 377.1L418.6 377.8L419.1 378.4L419.6 379.1L420.1 379.7L420.6 380.2L421.2 380.8L421.7 381.3L422.2 381.7L422.7 382.2L423.2 382.5L423.7 382.9L424.2 383.2L424.7 383.4L425.3 383.6L425.8 383.7L426.3 383.8L426.8 383.9L427.3 384.1L427.8 384.2L428.3 384.3L428.8 384.4L429.3 384.5L429.9 384.5L430.4 384.6L430.9 384.7L431.4 384.8L431.9 384.8L432.4 384.9L432.9 385.0L433.4 385.0L433.9 385.0L434.5 385.1L435.0 385.1L435.5 385.1L436.0 385.2L436.5 385.2L437.0 385.2L437.5 385.2L438.0 385.2L438.6 385.2L439.1 385.2L439.6 385.2L440.1 385.2L440.6 385.3L441.1 385.3L441.6 385.3L442.1 385.3L442.6 385.3L443.2 385.3L443.7 385.3L444.2 385.3L444.7 385.3L445.2 385.3L445.7 385.3L446.2 385.3L446.7 385.3L447.2 385.3L447.8 385.3L448.3 385.3L448.8 385.3L449.3 385.3L449.8 385.4L450.3 385.4L450.8 385.4L451.3 385.4L451.9 385.4L452.4 385.4L452.9 385.4L453.4 385.4L453.9 385.4L454.4 385.4L454.9 385.4L455.4 385.4L455.9 385.5L456.5 385.5L457.0 385.5L457.5 385.5L458.0 385.5L458.5 385.5L459.0 385.5L459.5 385.5L460.0 385.5L460.5 385.5L461.1 385.6L461.6 385.6L462.1 385.6L462.6 385.6L463.1 385.6L463.6 385.6L464.1 385.6L464.6 385.6L465.2 385.6L465.7 385.7L466.2 385.7L466.7 385.7L467.2 385.7L467.7 385.7L468.2 385.7L468.7 385.7L469.2 385.7L469.8 385.7L470.3 385.8L470.8 385.8L471.3 385.8L471.8 385.8" fill="none" stroke="#2181cc" stroke-width="1.80" stroke-linejoin="round"/>
<path d="M267.2 380.8L267.7 380.8L268.2 380.8L268.7 380.8L269.2 380.8L269.8 380.8L270.3 380.8L270.8 380.8L271.3 380.9L271.8 380.9L272.3 380.9L272.8 380.9L273.3 380.9L273.8 380.9L274.4 380.9L274.9 380.9L275.4 380.9L275.9 380.9L276.4 380.9L276.9 380.9L277.4 380.9L277.9 380.9L278.5 381.0L279.0 381.0L279.5 381.0L280.0 381.0L280.5 381.0L281.0 381.0L281.5 381.0L282.0 381.0L282.5 381.0L283.1 381.0L283.6 381.0L284.1 381.0L284.6 381.0L285.1 381.0L285.6 381.0L286.1 381.0L286.6 381.1L287.1 381.1L287.7 381.1L288.2 381.1L288.7 381.1L289.2 381.1L289.7 381.1L290.2 381.1L290.7 381.1L291.2 381.1L291.8 381.1L292.3 381.1L292.8 381.1L293.3 381.1L293.8 381.1L294.3 381.1L294.8 381.1L295.3 381.1L295.8 381.1L296.4 381.2L296.9 381.2L297.4 381.2L297.9 381.2L298.4 381.2L298.9 381.2L299.4 381.2L299.9 381.2L300.4 381.2L301.0 381.2L301.5 381.2L302.0 381.3L302.5 381.3L303.0 381.3L303.5 381.3L304.0 381.3L304.5 381.3L305.1 381.4L305.6 381.4L306.1 381.4L306.6 381.4L307.1 381.5L307.6 381.5L308.1 381.5L308.6 381.5L309.1 381.6L309.7 381.6L310.2 381.6L310.7 381.7L311.2 381.7L311.7 381.7L312.2 381.7L312.7 381.8L313.2 381.8L313.7 381.8L314.3 381.9L314.8 381.9L315.3 381.9L315.8 382.0L316.3 382.0L316.8 382.0L317.3 382.0L317.8 382.1L318.4 382.1L318.9 382.1L319.4 382.2L319.9 382.2L320.4 382.2L320.9 382.2L321.4 382.3L321.9 382.3L322.4 382.3L323.0 382.3L323.5 382.4L324.0 382.4L324.5 382.4L325.0 382.4L325.5 382.5L326.0 382.5L326.5 382.5L327.0 382.5L327.6 382.5L328.1 382.5L328.6 382.5L329.1 382.6L329.6 382.6L330.1 382.6L330.6 382.6L331.1 382.6L331.6 382.6L332.2 382.6L332.7 382.6L333.2 382.6L333.7 382.6L334.2 382.6L334.7 382.6L335.2 382.6L335.7 382.6L336.3 382.5L336.8 382.5L337.3 382.5L337.8 382.5L338.3 382.5L338.8 382.5L339.3 382.5L339.8 382.4L340.3 382.4L340.9 382.4L341.4 382.4L341.9 382.4L342.4 382.3L342.9 382.3L343.4 382.3L343.9 382.3L344.4 382.2L344.9 382.2L345.5 382.2L346.0 382.1L346.5 382.1L347.0 382.1L347.5 382.0L348.0 382.0L348.5 382.0L349.0 381.9L349.6 381.9L350.1 381.9L350.6 381.8L351.1 381.8L351.6 381.7L352.1 381.7L352.6 381.7L353.1 381.6L353.6 381.6L354.2 381.5L354.7 381.4L355.2 381.3L355.7 381.2L356.2 381.1L356.7 380.9L357.2 380.8L357.7 380.7L358.2 380.5L358.8 380.4L359.3 380.2L359.8 380.1L360.3 379.9L360.8 379.7L361.3 379.6L361.8 379.4L362.3 379.3L362.9 379.1L363.4 378.9L363.9 378.7L364.4 378.6L364.9 378.4L365.4 378.2L365.9 378.0L366.4 377.7L366.9 377.5L367.5 377.3L368.0 377.0L368.5 376.8L369.0 376.5L369.5 376.2L370.0 375.9L370.5 375.5L371.0 375.2L371.5 374.8L372.1 374.4L372.6 373.9L373.1 373.5L373.6 373.1L374.1 372.7L374.6 372.3L375.1 371.9L375.6 371.5L376.1 371.1L376.7 370.7L377.2 370.3L377.7 369.9L378.2 369.4L378.7 369.0L379.2 368.5L379.7 367.9L380.2 367.3L380.8 366.6L381.3 365.8L381.8 365.0L382.3 364.2L382.8 363.3L383.3 362.4L383.8 361.5L384.3 360.5L384.8 359.5L385.4 358.5L385.9 357.5L386.4 356.5L386.9 355.4L387.4 354.2L387.9 353.1L388.4 351.9L388.9 350.6L389.4 349.4L390.0 348.1L390.5 346.7L391.0 345.4L391.5 343.9L392.0 342.5L392.5 341.0L393.0 339.4L393.5 337.8L394.1 336.2L394.6 334.5L395.1 332.8L395.6 331.0L396.1 329.2L396.6 327.4L397.1 325.6L397.6 323.8L398.1 321.9L398.7 320.0L399.2 318.2L399.7 316.5L400.2 315.1L400.7 313.6L401.2 312.3L401.7 311.2L402.2 310.2L402.7 309.3L403.3 308.6L403.8 308.1L404.3 308.3L404.8 308.7L405.3 309.4L405.8 310.2L406.3 311.4L406.8 313.0L407.4 314.9L407.9 316.9L408.4 319.0L408.9 321.3L409.4 323.7L409.9 326.0L410.4 328.2L410.9 330.4L411.4 332.6L412.0 334.8L412.5 336.9L413.0 338.9L413.5 340.8L414.0 342.7L414.5 344.6L415.0 346.5L415.5 348.5L416.0 350.5L416.6 352.6L417.1 354.6L417.6 356.6L418.1 358.5L418.6 360.3L419.1 362.1L419.6 363.9L420.1 365.6L420.6 367.1L421.2 368.6L421.7 370.0L422.2 371.5L422.7 372.8L423.2 374.0L423.7 375.1L424.2 376.0L424.7 376.8L425.3 377.5L425.8 378.2L426.3 378.8L426.8 379.5L427.3 380.0L427.8 380.6L428.3 381.1L428.8 381.5L429.3 381.9L429.9 382.2L430.4 382.5L430.9 382.7L431.4 382.9L431.9 383.1L432.4 383.2L432.9 383.4L433.4 383.5L433.9 383.6L434.5 383.8L435.0 383.9L435.5 384.0L436.0 384.1L436.5 384.2L437.0 384.3L437.5 384.4L438.0 384.4L438.6 384.5L439.1 384.6L439.6 384.6L440.1 384.7L440.6 384.7L441.1 384.8L441.6 384.8L442.1 384.8L442.6 384.9L443.2 384.9L443.7 384.9L444.2 384.9L444.7 385.0L445.2 385.0L445.7 385.0L446.2 385.1L446.7 385.1L447.2 385.1L447.8 385.1L448.3 385.2L448.8 385.2L449.3 385.2L449.8 385.2L450.3 385.3L450.8 385.3L451.3 385.3L451.9 385.3L452.4 385.4L452.9 385.4L453.4 385.4L453.9 385.4L454.4 385.5L454.9 385.5L455.4 385.5L455.9 385.5L456.5 385.5L457.0 385.5L457.5 385.6L458.0 385.6L458.5 385.6L459.0 385.6L459.5 385.6L460.0 385.6L460.5 385.6L461.1 385.7L461.6 385.7L462.1 385.7L462.6 385.7L463.1 385.7L463.6 385.7L464.1 385.7L464.6 385.7L465.2 385.7L465.7 385.7L466.2 385.8L466.7 385.8L467.2 385.8L467.7 385.8L468.2 385.8L468.7 385.8L469.2 385.8L469.8 385.8L470.3 385.8L470.8 385.8L471.3 385.8L471.8 385.8" fill="none" stroke="#2181cc" stroke-width="1.60" stroke-linejoin="round" stroke-dasharray="1.2 1.35"/>
<line x1="273.10" y1="352.10" x2="291.60" y2="352.10" stroke="#2181cc" stroke-width="1.80"/>
<text x="293.50" y="354.30" font-size="7.9" fill="#111" stroke="#111" stroke-width="0.18" xml:space="preserve"><tspan font-weight="normal">Z-</tspan><tspan font-weight="bold">2</tspan></text>
<line x1="273.10" y1="363.80" x2="291.60" y2="363.80" stroke="#2181cc" stroke-width="1.60" stroke-dasharray="1.2 1.35"/>
<text x="293.50" y="366.00" font-size="7.9" fill="#111" stroke="#111" stroke-width="0.18" xml:space="preserve"><tspan font-weight="normal">Z-</tspan><tspan font-weight="bold">2</tspan><tspan font-weight="normal"> + </tspan><tspan font-weight="bold">24</tspan></text>
<rect x="28.40" y="417.40" width="204.50" height="103.90" fill="none" stroke="#bcbcbc" stroke-width="1.1"/>
<line x1="25.80" y1="521.30" x2="28.40" y2="521.30" stroke="#bcbcbc" stroke-width="0.9"/>
<text x="23.20" y="523.35" font-size="5.8" text-anchor="end" fill="#555">0</text>
<line x1="25.80" y1="506.46" x2="28.40" y2="506.46" stroke="#bcbcbc" stroke-width="0.9"/>
<text x="23.20" y="508.51" font-size="5.8" text-anchor="end" fill="#555">0.2</text>
<line x1="25.80" y1="491.62" x2="28.40" y2="491.62" stroke="#bcbcbc" stroke-width="0.9"/>
<text x="23.20" y="493.67" font-size="5.8" text-anchor="end" fill="#555">0.4</text>
<line x1="25.80" y1="476.77" x2="28.40" y2="476.77" stroke="#bcbcbc" stroke-width="0.9"/>
<text x="23.20" y="478.82" font-size="5.8" text-anchor="end" fill="#555">0.6</text>
<line x1="25.80" y1="461.93" x2="28.40" y2="461.93" stroke="#bcbcbc" stroke-width="0.9"/>
<text x="23.20" y="463.98" font-size="5.8" text-anchor="end" fill="#555">0.8</text>
<line x1="25.80" y1="447.09" x2="28.40" y2="447.09" stroke="#bcbcbc" stroke-width="0.9"/>
<text x="23.20" y="449.14" font-size="5.8" text-anchor="end" fill="#555">1</text>
<line x1="25.80" y1="432.25" x2="28.40" y2="432.25" stroke="#bcbcbc" stroke-width="0.9"/>
<text x="23.20" y="434.30" font-size="5.8" text-anchor="end" fill="#555">1.2</text>
<line x1="25.80" y1="417.41" x2="28.40" y2="417.41" stroke="#bcbcbc" stroke-width="0.9"/>
<text x="23.20" y="419.46" font-size="5.8" text-anchor="end" fill="#555">1.4</text>
<line x1="28.40" y1="521.30" x2="28.40" y2="523.50" stroke="#bcbcbc" stroke-width="0.9"/>
<text x="30.90" y="533.00" font-size="9.5" text-anchor="middle" fill="#222" textLength="14.0" lengthAdjust="spacingAndGlyphs">300</text>
<line x1="79.53" y1="521.30" x2="79.53" y2="523.50" stroke="#bcbcbc" stroke-width="0.9"/>
<text x="79.85" y="533.00" font-size="9.5" text-anchor="middle" fill="#222" textLength="14.0" lengthAdjust="spacingAndGlyphs">350</text>
<line x1="130.65" y1="521.30" x2="130.65" y2="523.50" stroke="#bcbcbc" stroke-width="0.9"/>
<text x="131.00" y="533.00" font-size="9.5" text-anchor="middle" fill="#222" textLength="14.0" lengthAdjust="spacingAndGlyphs">400</text>
<line x1="181.78" y1="521.30" x2="181.78" y2="523.50" stroke="#bcbcbc" stroke-width="0.9"/>
<text x="182.50" y="533.00" font-size="9.5" text-anchor="middle" fill="#222" textLength="14.0" lengthAdjust="spacingAndGlyphs">450</text>
<line x1="232.90" y1="521.30" x2="232.90" y2="523.50" stroke="#bcbcbc" stroke-width="0.9"/>
<text x="232.55" y="533.00" font-size="9.5" text-anchor="middle" fill="#222" textLength="14.0" lengthAdjust="spacingAndGlyphs">500</text>
<text x="149.20" y="542.60" font-size="9.3" text-anchor="middle" fill="#2e2e2e" textLength="23" lengthAdjust="spacingAndGlyphs">λ, nm</text>
<text transform="translate(9.20 469.50) rotate(-90)" x="0" y="0" font-size="6.1" text-anchor="middle" dominant-baseline="central" fill="#3a3a3a" textLength="30.0" lengthAdjust="spacingAndGlyphs">Absorbance</text>
<path d="M28.4 507.9L28.9 507.9L29.4 507.8L29.9 507.7L30.4 507.7L31.0 507.6L31.5 507.5L32.0 507.5L32.5 507.4L33.0 507.3L33.5 507.3L34.0 507.2L34.5 507.1L35.0 507.1L35.6 507.0L36.1 507.0L36.6 506.9L37.1 506.8L37.6 506.8L38.1 506.7L38.6 506.7L39.1 506.6L39.6 506.5L40.2 506.5L40.7 506.4L41.2 506.4L41.7 506.3L42.2 506.3L42.7 506.2L43.2 506.1L43.7 506.1L44.2 506.0L44.8 506.0L45.3 505.9L45.8 505.9L46.3 505.8L46.8 505.7L47.3 505.7L47.8 505.6L48.3 505.5L48.9 505.5L49.4 505.4L49.9 505.4L50.4 505.3L50.9 505.2L51.4 505.2L51.9 505.1L52.4 505.1L52.9 505.0L53.5 505.0L54.0 504.9L54.5 504.9L55.0 504.9L55.5 504.8L56.0 504.8L56.5 504.8L57.0 504.8L57.5 504.8L58.1 504.8L58.6 504.8L59.1 504.8L59.6 504.8L60.1 504.8L60.6 504.8L61.1 504.8L61.6 504.9L62.1 504.9L62.7 504.9L63.2 505.0L63.7 505.0L64.2 505.1L64.7 505.1L65.2 505.2L65.7 505.2L66.2 505.3L66.7 505.3L67.3 505.4L67.8 505.5L68.3 505.5L68.8 505.6L69.3 505.6L69.8 505.7L70.3 505.8L70.8 505.9L71.3 505.9L71.9 506.0L72.4 506.1L72.9 506.1L73.4 506.2L73.9 506.3L74.4 506.3L74.9 506.4L75.4 506.5L75.9 506.5L76.5 506.6L77.0 506.6L77.5 506.7L78.0 506.7L78.5 506.8L79.0 506.9L79.5 506.9L80.0 507.0L80.5 507.1L81.1 507.1L81.6 507.2L82.1 507.3L82.6 507.3L83.1 507.4L83.6 507.5L84.1 507.6L84.6 507.6L85.1 507.7L85.7 507.7L86.2 507.8L86.7 507.8L87.2 507.9L87.7 507.9L88.2 508.0L88.7 508.0L89.2 508.0L89.8 508.0L90.3 508.0L90.8 508.0L91.3 508.0L91.8 508.0L92.3 508.0L92.8 508.0L93.3 508.0L93.8 508.0L94.4 508.0L94.9 507.9L95.4 507.9L95.9 507.9L96.4 507.9L96.9 507.9L97.4 507.9L97.9 507.8L98.4 507.8L99.0 507.8L99.5 507.8L100.0 507.7L100.5 507.7L101.0 507.7L101.5 507.6L102.0 507.6L102.5 507.6L103.0 507.5L103.6 507.5L104.1 507.5L104.6 507.4L105.1 507.4L105.6 507.3L106.1 507.2L106.6 507.1L107.1 507.0L107.6 506.9L108.2 506.8L108.7 506.6L109.2 506.5L109.7 506.3L110.2 506.2L110.7 506.0L111.2 505.8L111.7 505.6L112.2 505.4L112.8 505.2L113.3 505.0L113.8 504.8L114.3 504.6L114.8 504.4L115.3 504.1L115.8 503.8L116.3 503.5L116.8 503.1L117.4 502.8L117.9 502.4L118.4 502.1L118.9 501.7L119.4 501.3L119.9 500.8L120.4 500.4L120.9 499.9L121.4 499.4L122.0 498.9L122.5 498.3L123.0 497.7L123.5 497.1L124.0 496.4L124.5 495.7L125.0 495.0L125.5 494.1L126.0 493.2L126.6 492.2L127.1 491.2L127.6 490.0L128.1 488.8L128.6 487.6L129.1 486.2L129.6 484.9L130.1 483.5L130.7 482.1L131.2 480.4L131.7 478.7L132.2 476.9L132.7 475.1L133.2 473.2L133.7 471.5L134.2 469.7L134.7 467.9L135.3 466.1L135.8 464.4L136.3 462.6L136.8 460.9L137.3 459.2L137.8 457.7L138.3 456.2L138.8 454.7L139.3 453.3L139.9 451.9L140.4 450.6L140.9 449.3L141.4 448.2L141.9 447.2L142.4 446.3L142.9 445.4L143.4 444.5L143.9 443.7L144.5 443.0L145.0 442.5L145.5 442.0L146.0 441.7L146.5 441.3L147.0 440.9L147.5 440.7L148.0 440.4L148.5 440.3L149.1 440.2L149.6 440.2L150.1 440.4L150.6 440.6L151.1 440.9L151.6 441.2L152.1 441.6L152.6 441.9L153.1 442.2L153.7 442.6L154.2 442.9L154.7 443.3L155.2 443.7L155.7 444.1L156.2 444.4L156.7 444.7L157.2 445.1L157.7 445.4L158.3 445.7L158.8 446.0L159.3 446.3L159.8 446.6L160.3 446.9L160.8 447.2L161.3 447.5L161.8 447.7L162.3 448.0L162.9 448.3L163.4 448.6L163.9 449.0L164.4 449.3L164.9 449.6L165.4 449.9L165.9 450.2L166.4 450.5L166.9 450.8L167.5 451.1L168.0 451.5L168.5 451.8L169.0 452.1L169.5 452.4L170.0 452.7L170.5 453.0L171.0 453.3L171.5 453.6L172.1 453.9L172.6 454.2L173.1 454.5L173.6 454.8L174.1 455.1L174.6 455.3L175.1 455.7L175.6 456.0L176.2 456.3L176.7 456.7L177.2 457.0L177.7 457.4L178.2 457.8L178.7 458.3L179.2 458.7L179.7 459.2L180.2 459.7L180.8 460.3L181.3 460.9L181.8 461.6L182.3 462.4L182.8 463.3L183.3 464.3L183.8 465.3L184.3 466.4L184.8 467.6L185.4 468.7L185.9 469.9L186.4 471.0L186.9 472.1L187.4 473.3L187.9 474.5L188.4 475.8L188.9 477.1L189.4 478.3L190.0 479.5L190.5 480.7L191.0 481.8L191.5 482.9L192.0 483.9L192.5 485.0L193.0 486.0L193.5 486.9L194.0 487.9L194.6 488.8L195.1 489.7L195.6 490.5L196.1 491.3L196.6 492.1L197.1 492.8L197.6 493.5L198.1 494.2L198.6 494.9L199.2 495.6L199.7 496.2L200.2 496.8L200.7 497.4L201.2 498.0L201.7 498.6L202.2 499.2L202.7 499.7L203.2 500.2L203.8 500.8L204.3 501.3L204.8 501.8L205.3 502.3L205.8 502.7L206.3 503.2L206.8 503.7L207.3 504.1L207.8 504.5L208.4 505.0L208.9 505.4L209.4 505.8L209.9 506.2L210.4 506.6L210.9 507.1L211.4 507.5L211.9 507.9L212.5 508.3L213.0 508.7L213.5 509.1L214.0 509.5L214.5 509.9L215.0 510.2L215.5 510.6L216.0 511.0L216.5 511.3L217.1 511.6L217.6 511.9L218.1 512.2L218.6 512.5L219.1 512.8L219.6 513.0L220.1 513.2L220.6 513.5L221.1 513.7L221.7 513.9L222.2 514.2L222.7 514.4L223.2 514.6L223.7 514.8L224.2 515.0L224.7 515.2L225.2 515.4L225.7 515.6L226.3 515.8L226.8 516.0L227.3 516.2L227.8 516.3L228.3 516.5L228.8 516.6L229.3 516.8L229.8 516.9L230.3 517.0L230.9 517.1L231.4 517.2L231.9 517.3L232.4 517.4L232.9 517.4" fill="none" stroke="#771ea6" stroke-width="1.70" stroke-linejoin="round"/>
<path d="M28.4 505.7L28.9 505.6L29.4 505.5L29.9 505.5L30.4 505.4L31.0 505.3L31.5 505.2L32.0 505.1L32.5 505.0L33.0 505.0L33.5 504.9L34.0 504.8L34.5 504.7L35.0 504.6L35.6 504.6L36.1 504.5L36.6 504.4L37.1 504.3L37.6 504.3L38.1 504.2L38.6 504.1L39.1 504.1L39.6 504.0L40.2 503.9L40.7 503.9L41.2 503.8L41.7 503.7L42.2 503.7L42.7 503.6L43.2 503.5L43.7 503.5L44.2 503.4L44.8 503.4L45.3 503.3L45.8 503.2L46.3 503.2L46.8 503.1L47.3 503.1L47.8 503.0L48.3 502.9L48.9 502.9L49.4 502.8L49.9 502.7L50.4 502.7L50.9 502.6L51.4 502.6L51.9 502.5L52.4 502.4L52.9 502.4L53.5 502.3L54.0 502.3L54.5 502.2L55.0 502.2L55.5 502.1L56.0 502.1L56.5 502.0L57.0 502.0L57.5 502.0L58.1 501.9L58.6 501.9L59.1 501.9L59.6 501.8L60.1 501.8L60.6 501.8L61.1 501.8L61.6 501.8L62.1 501.8L62.7 501.8L63.2 501.8L63.7 501.8L64.2 501.9L64.7 501.9L65.2 502.0L65.7 502.0L66.2 502.1L66.7 502.2L67.3 502.3L67.8 502.4L68.3 502.5L68.8 502.6L69.3 502.7L69.8 502.8L70.3 502.9L70.8 503.0L71.3 503.1L71.9 503.3L72.4 503.4L72.9 503.5L73.4 503.6L73.9 503.8L74.4 503.9L74.9 504.0L75.4 504.1L75.9 504.3L76.5 504.4L77.0 504.5L77.5 504.6L78.0 504.7L78.5 504.8L79.0 505.0L79.5 505.1L80.0 505.2L80.5 505.3L81.1 505.5L81.6 505.6L82.1 505.7L82.6 505.9L83.1 506.0L83.6 506.1L84.1 506.3L84.6 506.4L85.1 506.5L85.7 506.7L86.2 506.8L86.7 506.9L87.2 507.0L87.7 507.2L88.2 507.3L88.7 507.4L89.2 507.5L89.8 507.5L90.3 507.6L90.8 507.7L91.3 507.8L91.8 507.9L92.3 507.9L92.8 508.0L93.3 508.1L93.8 508.2L94.4 508.2L94.9 508.3L95.4 508.4L95.9 508.5L96.4 508.5L96.9 508.6L97.4 508.7L97.9 508.7L98.4 508.8L99.0 508.9L99.5 508.9L100.0 509.0L100.5 509.0L101.0 509.1L101.5 509.1L102.0 509.2L102.5 509.2L103.0 509.3L103.6 509.3L104.1 509.3L104.6 509.4L105.1 509.4L105.6 509.4L106.1 509.4L106.6 509.4L107.1 509.4L107.6 509.4L108.2 509.4L108.7 509.4L109.2 509.4L109.7 509.4L110.2 509.4L110.7 509.4L111.2 509.4L111.7 509.3L112.2 509.3L112.8 509.3L113.3 509.3L113.8 509.2L114.3 509.2L114.8 509.2L115.3 509.1L115.8 509.1L116.3 509.0L116.8 508.9L117.4 508.8L117.9 508.6L118.4 508.4L118.9 508.1L119.4 507.8L119.9 507.4L120.4 507.1L120.9 506.7L121.4 506.3L122.0 505.9L122.5 505.5L123.0 505.0L123.5 504.6L124.0 504.2L124.5 503.9L125.0 503.5L125.5 503.2L126.0 502.8L126.6 502.5L127.1 502.1L127.6 501.8L128.1 501.4L128.6 501.0L129.1 500.5L129.6 500.0L130.1 499.4L130.7 498.7L131.2 497.8L131.7 496.7L132.2 495.5L132.7 494.2L133.2 492.8L133.7 491.4L134.2 489.9L134.7 488.5L135.3 487.0L135.8 485.6L136.3 484.1L136.8 482.5L137.3 480.9L137.8 479.2L138.3 477.5L138.8 475.8L139.3 474.0L139.9 472.2L140.4 470.4L140.9 468.4L141.4 466.3L141.9 464.1L142.4 461.8L142.9 459.7L143.4 457.8L143.9 456.1L144.5 454.7L145.0 453.4L145.5 452.3L146.0 451.3L146.5 450.3L147.0 449.3L147.5 448.3L148.0 447.2L148.5 446.1L149.1 445.0L149.6 443.9L150.1 442.8L150.6 441.7L151.1 440.7L151.6 439.8L152.1 439.0L152.6 438.1L153.1 437.3L153.7 436.4L154.2 435.5L154.7 434.7L155.2 433.9L155.7 433.2L156.2 432.6L156.7 432.1L157.2 431.8L157.7 431.6L158.3 431.5L158.8 431.5L159.3 431.5L159.8 431.5L160.3 431.5L160.8 431.5L161.3 431.5L161.8 431.6L162.3 431.9L162.9 432.2L163.4 432.7L163.9 433.2L164.4 433.7L164.9 434.2L165.4 434.8L165.9 435.5L166.4 436.2L166.9 437.0L167.5 437.8L168.0 438.7L168.5 439.6L169.0 440.5L169.5 441.4L170.0 442.3L170.5 443.4L171.0 444.5L171.5 445.7L172.1 447.0L172.6 448.3L173.1 449.6L173.6 450.7L174.1 451.8L174.6 452.6L175.1 453.3L175.6 453.8L176.2 454.4L176.7 454.9L177.2 455.3L177.7 455.7L178.2 456.1L178.7 456.5L179.2 456.8L179.7 457.1L180.2 457.3L180.8 457.5L181.3 457.7L181.8 457.9L182.3 458.0L182.8 458.1L183.3 458.3L183.8 458.4L184.3 458.6L184.8 458.8L185.4 459.0L185.9 459.3L186.4 459.6L186.9 460.0L187.4 460.7L187.9 461.6L188.4 462.6L188.9 463.8L189.4 465.0L190.0 466.2L190.5 467.5L191.0 468.7L191.5 469.8L192.0 470.9L192.5 472.1L193.0 473.4L193.5 474.6L194.0 475.9L194.6 477.1L195.1 478.3L195.6 479.5L196.1 480.6L196.6 481.7L197.1 482.9L197.6 484.0L198.1 485.0L198.6 486.1L199.2 487.2L199.7 488.2L200.2 489.1L200.7 490.0L201.2 490.8L201.7 491.6L202.2 492.3L202.7 493.1L203.2 493.8L203.8 494.5L204.3 495.1L204.8 495.7L205.3 496.4L205.8 496.9L206.3 497.5L206.8 498.1L207.3 498.6L207.8 499.1L208.4 499.6L208.9 500.1L209.4 500.5L209.9 501.0L210.4 501.4L210.9 501.8L211.4 502.2L211.9 502.6L212.5 503.0L213.0 503.4L213.5 503.8L214.0 504.1L214.5 504.5L215.0 504.9L215.5 505.2L216.0 505.6L216.5 505.9L217.1 506.2L217.6 506.6L218.1 506.9L218.6 507.2L219.1 507.5L219.6 507.8L220.1 508.1L220.6 508.4L221.1 508.7L221.7 509.0L222.2 509.3L222.7 509.6L223.2 509.9L223.7 510.1L224.2 510.4L224.7 510.7L225.2 511.0L225.7 511.3L226.3 511.6L226.8 511.8L227.3 512.1L227.8 512.4L228.3 512.7L228.8 512.9L229.3 513.2L229.8 513.5L230.3 513.7L230.9 514.0L231.4 514.2L231.9 514.5L232.4 514.7L232.9 515.0" fill="none" stroke="#771ea6" stroke-width="1.70" stroke-linejoin="round" stroke-dasharray="3.4 1.5"/>
<line x1="32.90" y1="481.10" x2="51.60" y2="481.10" stroke="#771ea6" stroke-width="1.70"/>
<text x="53.50" y="483.30" font-size="7.9" fill="#111" stroke="#111" stroke-width="0.18" xml:space="preserve"><tspan font-weight="bold">3</tspan></text>
<line x1="32.90" y1="493.60" x2="51.60" y2="493.60" stroke="#771ea6" stroke-width="1.70" stroke-dasharray="3.4 1.5"/>
<text x="53.50" y="495.80" font-size="7.9" fill="#111" stroke="#111" stroke-width="0.18" xml:space="preserve"><tspan font-weight="bold">3</tspan><tspan font-weight="normal"> + </tspan><tspan font-weight="bold">23</tspan></text>
<rect x="267.20" y="417.40" width="204.60" height="103.90" fill="none" stroke="#bcbcbc" stroke-width="1.1"/>
<line x1="264.60" y1="521.30" x2="267.20" y2="521.30" stroke="#bcbcbc" stroke-width="0.9"/>
<text x="262.00" y="523.35" font-size="5.8" text-anchor="end" fill="#555">0</text>
<line x1="264.60" y1="503.98" x2="267.20" y2="503.98" stroke="#bcbcbc" stroke-width="0.9"/>
<text x="262.00" y="506.03" font-size="5.8" text-anchor="end" fill="#555">0.2</text>
<line x1="264.60" y1="486.67" x2="267.20" y2="486.67" stroke="#bcbcbc" stroke-width="0.9"/>
<text x="262.00" y="488.72" font-size="5.8" text-anchor="end" fill="#555">0.4</text>
<line x1="264.60" y1="469.35" x2="267.20" y2="469.35" stroke="#bcbcbc" stroke-width="0.9"/>
<text x="262.00" y="471.40" font-size="5.8" text-anchor="end" fill="#555">0.6</text>
<line x1="264.60" y1="452.04" x2="267.20" y2="452.04" stroke="#bcbcbc" stroke-width="0.9"/>
<text x="262.00" y="454.09" font-size="5.8" text-anchor="end" fill="#555">0.8</text>
<line x1="264.60" y1="434.72" x2="267.20" y2="434.72" stroke="#bcbcbc" stroke-width="0.9"/>
<text x="262.00" y="436.77" font-size="5.8" text-anchor="end" fill="#555">1</text>
<line x1="264.60" y1="417.40" x2="267.20" y2="417.40" stroke="#bcbcbc" stroke-width="0.9"/>
<text x="262.00" y="419.45" font-size="5.8" text-anchor="end" fill="#555">1.2</text>
<line x1="267.20" y1="521.30" x2="267.20" y2="523.50" stroke="#bcbcbc" stroke-width="0.9"/>
<text x="271.10" y="533.00" font-size="9.5" text-anchor="middle" fill="#222" textLength="14.0" lengthAdjust="spacingAndGlyphs">300</text>
<line x1="318.35" y1="521.30" x2="318.35" y2="523.50" stroke="#bcbcbc" stroke-width="0.9"/>
<text x="320.20" y="533.00" font-size="9.5" text-anchor="middle" fill="#222" textLength="14.0" lengthAdjust="spacingAndGlyphs">350</text>
<line x1="369.50" y1="521.30" x2="369.50" y2="523.50" stroke="#bcbcbc" stroke-width="0.9"/>
<text x="371.30" y="533.00" font-size="9.5" text-anchor="middle" fill="#222" textLength="14.0" lengthAdjust="spacingAndGlyphs">400</text>
<line x1="420.65" y1="521.30" x2="420.65" y2="523.50" stroke="#bcbcbc" stroke-width="0.9"/>
<text x="422.80" y="533.00" font-size="9.5" text-anchor="middle" fill="#222" textLength="14.0" lengthAdjust="spacingAndGlyphs">450</text>
<line x1="471.80" y1="521.30" x2="471.80" y2="523.50" stroke="#bcbcbc" stroke-width="0.9"/>
<text x="473.00" y="533.00" font-size="9.5" text-anchor="middle" fill="#222" textLength="14.0" lengthAdjust="spacingAndGlyphs">500</text>
<text x="389.30" y="542.60" font-size="9.3" text-anchor="middle" fill="#2e2e2e" textLength="23" lengthAdjust="spacingAndGlyphs">λ, nm</text>
<text transform="translate(248.50 469.50) rotate(-90)" x="0" y="0" font-size="6.1" text-anchor="middle" dominant-baseline="central" fill="#3a3a3a" textLength="30.0" lengthAdjust="spacingAndGlyphs">Absorbance</text>
<path d="M267.2 506.0L267.7 505.9L268.2 505.8L268.7 505.7L269.2 505.6L269.8 505.5L270.3 505.4L270.8 505.3L271.3 505.2L271.8 505.1L272.3 505.0L272.8 504.9L273.3 504.8L273.8 504.8L274.4 504.7L274.9 504.6L275.4 504.5L275.9 504.4L276.4 504.4L276.9 504.3L277.4 504.2L277.9 504.1L278.5 504.1L279.0 504.0L279.5 503.9L280.0 503.9L280.5 503.8L281.0 503.7L281.5 503.7L282.0 503.6L282.5 503.6L283.1 503.5L283.6 503.4L284.1 503.4L284.6 503.3L285.1 503.3L285.6 503.2L286.1 503.1L286.6 503.1L287.1 503.0L287.7 503.0L288.2 502.9L288.7 502.9L289.2 502.8L289.7 502.8L290.2 502.7L290.7 502.7L291.2 502.6L291.8 502.6L292.3 502.6L292.8 502.5L293.3 502.5L293.8 502.5L294.3 502.5L294.8 502.4L295.3 502.4L295.8 502.4L296.4 502.4L296.9 502.4L297.4 502.4L297.9 502.4L298.4 502.5L298.9 502.5L299.4 502.5L299.9 502.5L300.4 502.5L301.0 502.6L301.5 502.6L302.0 502.6L302.5 502.7L303.0 502.7L303.5 502.7L304.0 502.8L304.5 502.8L305.1 502.9L305.6 502.9L306.1 503.0L306.6 503.0L307.1 503.1L307.6 503.1L308.1 503.2L308.6 503.2L309.1 503.3L309.7 503.4L310.2 503.4L310.7 503.5L311.2 503.5L311.7 503.6L312.2 503.7L312.7 503.7L313.2 503.8L313.7 503.8L314.3 503.9L314.8 504.0L315.3 504.0L315.8 504.1L316.3 504.1L316.8 504.2L317.3 504.3L317.8 504.3L318.4 504.4L318.9 504.4L319.4 504.5L319.9 504.5L320.4 504.6L320.9 504.6L321.4 504.7L321.9 504.7L322.4 504.8L323.0 504.8L323.5 504.8L324.0 504.9L324.5 504.9L325.0 505.0L325.5 505.0L326.0 505.0L326.5 505.0L327.0 505.1L327.6 505.1L328.1 505.1L328.6 505.1L329.1 505.2L329.6 505.2L330.1 505.2L330.6 505.3L331.1 505.3L331.6 505.3L332.2 505.3L332.7 505.4L333.2 505.4L333.7 505.4L334.2 505.4L334.7 505.4L335.2 505.5L335.7 505.5L336.3 505.5L336.8 505.5L337.3 505.5L337.8 505.6L338.3 505.6L338.8 505.6L339.3 505.6L339.8 505.6L340.3 505.6L340.9 505.6L341.4 505.6L341.9 505.6L342.4 505.6L342.9 505.6L343.4 505.5L343.9 505.4L344.4 505.3L344.9 505.2L345.5 505.0L346.0 504.8L346.5 504.6L347.0 504.4L347.5 504.2L348.0 504.0L348.5 503.8L349.0 503.6L349.6 503.4L350.1 503.2L350.6 503.0L351.1 502.8L351.6 502.6L352.1 502.3L352.6 502.1L353.1 501.8L353.6 501.5L354.2 501.3L354.7 501.0L355.2 500.7L355.7 500.3L356.2 500.0L356.7 499.7L357.2 499.3L357.7 498.9L358.2 498.5L358.8 498.0L359.3 497.5L359.8 497.0L360.3 496.5L360.8 495.9L361.3 495.3L361.8 494.7L362.3 493.9L362.9 493.1L363.4 492.2L363.9 491.3L364.4 490.3L364.9 489.2L365.4 488.1L365.9 486.8L366.4 485.4L366.9 483.9L367.5 482.3L368.0 480.7L368.5 479.0L369.0 477.3L369.5 475.6L370.0 473.8L370.5 472.0L371.0 470.0L371.5 468.1L372.1 466.2L372.6 464.3L373.1 462.6L373.6 460.9L374.1 459.2L374.6 457.6L375.1 455.9L375.6 454.2L376.1 452.3L376.7 450.3L377.2 448.1L377.7 445.9L378.2 443.8L378.7 441.8L379.2 440.0L379.7 438.4L380.2 436.7L380.8 435.1L381.3 433.6L381.8 432.3L382.3 431.1L382.8 430.2L383.3 429.5L383.8 428.9L384.3 428.4L384.8 427.9L385.4 427.5L385.9 427.1L386.4 426.8L386.9 426.6L387.4 426.6L387.9 426.6L388.4 426.8L388.9 427.0L389.4 427.2L390.0 427.5L390.5 427.9L391.0 428.2L391.5 428.6L392.0 428.9L392.5 429.2L393.0 429.5L393.5 429.8L394.1 430.1L394.6 430.5L395.1 430.8L395.6 431.2L396.1 431.5L396.6 431.9L397.1 432.3L397.6 432.7L398.1 433.0L398.7 433.4L399.2 433.8L399.7 434.2L400.2 434.5L400.7 434.9L401.2 435.3L401.7 435.7L402.2 436.1L402.7 436.5L403.3 436.9L403.8 437.3L404.3 437.7L404.8 438.1L405.3 438.5L405.8 438.9L406.3 439.3L406.8 439.7L407.4 440.1L407.9 440.4L408.4 440.8L408.9 441.1L409.4 441.4L409.9 441.7L410.4 442.0L410.9 442.3L411.4 442.6L412.0 442.8L412.5 443.1L413.0 443.4L413.5 443.7L414.0 444.0L414.5 444.3L415.0 444.7L415.5 445.1L416.0 445.5L416.6 446.0L417.1 446.5L417.6 447.1L418.1 447.7L418.6 448.4L419.1 449.1L419.6 449.8L420.1 450.6L420.6 451.4L421.2 452.4L421.7 453.5L422.2 454.7L422.7 455.9L423.2 457.3L423.7 458.7L424.2 460.2L424.7 461.6L425.3 463.1L425.8 464.5L426.3 465.9L426.8 467.2L427.3 468.6L427.8 470.0L428.3 471.5L428.8 472.9L429.3 474.3L429.9 475.7L430.4 477.0L430.9 478.3L431.4 479.5L431.9 480.6L432.4 481.7L432.9 482.9L433.4 483.9L433.9 485.0L434.5 486.0L435.0 486.9L435.5 487.8L436.0 488.7L436.5 489.5L437.0 490.2L437.5 491.0L438.0 491.7L438.6 492.3L439.1 493.0L439.6 493.6L440.1 494.2L440.6 494.8L441.1 495.4L441.6 496.0L442.1 496.5L442.6 497.1L443.2 497.7L443.7 498.2L444.2 498.8L444.7 499.3L445.2 499.9L445.7 500.4L446.2 500.9L446.7 501.4L447.2 501.9L447.8 502.4L448.3 502.9L448.8 503.4L449.3 503.9L449.8 504.4L450.3 504.8L450.8 505.3L451.3 505.7L451.9 506.2L452.4 506.7L452.9 507.1L453.4 507.6L453.9 508.1L454.4 508.5L454.9 509.0L455.4 509.4L455.9 509.8L456.5 510.2L457.0 510.6L457.5 511.0L458.0 511.3L458.5 511.6L459.0 511.9L459.5 512.2L460.0 512.4L460.5 512.7L461.1 512.9L461.6 513.2L462.1 513.4L462.6 513.7L463.1 513.9L463.6 514.1L464.1 514.4L464.6 514.6L465.2 514.8L465.7 515.0L466.2 515.2L466.7 515.4L467.2 515.5L467.7 515.7L468.2 515.8L468.7 516.0L469.2 516.1L469.8 516.2L470.3 516.3L470.8 516.4L471.3 516.5L471.8 516.5" fill="none" stroke="#771ea6" stroke-width="1.80" stroke-linejoin="round"/>
<path d="M267.2 500.5L267.7 500.5L268.2 500.5L268.7 500.4L269.2 500.4L269.8 500.4L270.3 500.3L270.8 500.3L271.3 500.3L271.8 500.2L272.3 500.2L272.8 500.2L273.3 500.1L273.8 500.1L274.4 500.1L274.9 500.1L275.4 500.0L275.9 500.0L276.4 500.0L276.9 499.9L277.4 499.9L277.9 499.9L278.5 499.9L279.0 499.8L279.5 499.8L280.0 499.8L280.5 499.8L281.0 499.7L281.5 499.7L282.0 499.7L282.5 499.7L283.1 499.6L283.6 499.6L284.1 499.6L284.6 499.6L285.1 499.5L285.6 499.5L286.1 499.5L286.6 499.4L287.1 499.4L287.7 499.4L288.2 499.4L288.7 499.3L289.2 499.3L289.7 499.3L290.2 499.3L290.7 499.2L291.2 499.2L291.8 499.2L292.3 499.2L292.8 499.2L293.3 499.1L293.8 499.1L294.3 499.1L294.8 499.1L295.3 499.1L295.8 499.1L296.4 499.1L296.9 499.1L297.4 499.1L297.9 499.0L298.4 499.1L298.9 499.1L299.4 499.1L299.9 499.1L300.4 499.1L301.0 499.2L301.5 499.2L302.0 499.3L302.5 499.3L303.0 499.4L303.5 499.4L304.0 499.5L304.5 499.6L305.1 499.6L305.6 499.7L306.1 499.8L306.6 499.9L307.1 500.0L307.6 500.1L308.1 500.2L308.6 500.3L309.1 500.4L309.7 500.5L310.2 500.6L310.7 500.7L311.2 500.8L311.7 500.9L312.2 501.1L312.7 501.2L313.2 501.3L313.7 501.4L314.3 501.5L314.8 501.6L315.3 501.8L315.8 501.9L316.3 502.0L316.8 502.1L317.3 502.2L317.8 502.4L318.4 502.5L318.9 502.6L319.4 502.7L319.9 502.8L320.4 502.9L320.9 503.0L321.4 503.1L321.9 503.2L322.4 503.3L323.0 503.4L323.5 503.5L324.0 503.6L324.5 503.7L325.0 503.8L325.5 503.9L326.0 504.0L326.5 504.0L327.0 504.1L327.6 504.2L328.1 504.3L328.6 504.3L329.1 504.4L329.6 504.5L330.1 504.6L330.6 504.7L331.1 504.7L331.6 504.8L332.2 504.9L332.7 505.0L333.2 505.1L333.7 505.1L334.2 505.2L334.7 505.3L335.2 505.4L335.7 505.5L336.3 505.5L336.8 505.6L337.3 505.7L337.8 505.7L338.3 505.8L338.8 505.9L339.3 505.9L339.8 506.0L340.3 506.1L340.9 506.1L341.4 506.2L341.9 506.2L342.4 506.3L342.9 506.3L343.4 506.3L343.9 506.4L344.4 506.4L344.9 506.4L345.5 506.5L346.0 506.5L346.5 506.5L347.0 506.5L347.5 506.5L348.0 506.5L348.5 506.5L349.0 506.4L349.6 506.3L350.1 506.3L350.6 506.2L351.1 506.1L351.6 506.0L352.1 505.8L352.6 505.7L353.1 505.5L353.6 505.4L354.2 505.2L354.7 505.0L355.2 504.9L355.7 504.7L356.2 504.5L356.7 504.2L357.2 504.0L357.7 503.8L358.2 503.6L358.8 503.4L359.3 503.1L359.8 502.9L360.3 502.6L360.8 502.2L361.3 501.8L361.8 501.4L362.3 500.9L362.9 500.5L363.4 499.9L363.9 499.4L364.4 498.8L364.9 498.2L365.4 497.6L365.9 497.0L366.4 496.3L366.9 495.5L367.5 494.7L368.0 493.8L368.5 492.8L369.0 491.8L369.5 490.8L370.0 489.8L370.5 488.8L371.0 487.9L371.5 487.0L372.1 486.1L372.6 485.2L373.1 484.2L373.6 483.3L374.1 482.3L374.6 481.2L375.1 480.1L375.6 478.9L376.1 477.6L376.7 476.2L377.2 474.5L377.7 472.8L378.2 471.0L378.7 469.1L379.2 467.3L379.7 465.4L380.2 463.5L380.8 461.5L381.3 459.5L381.8 457.5L382.3 455.6L382.8 453.7L383.3 451.8L383.8 449.9L384.3 448.0L384.8 446.2L385.4 444.4L385.9 442.7L386.4 441.1L386.9 439.7L387.4 438.4L387.9 437.0L388.4 435.7L388.9 434.5L389.4 433.3L390.0 432.1L390.5 431.0L391.0 430.0L391.5 429.1L392.0 428.3L392.5 427.6L393.0 426.9L393.5 426.3L394.1 425.8L394.6 425.2L395.1 424.6L395.6 424.2L396.1 423.7L396.6 423.4L397.1 423.1L397.6 422.9L398.1 422.9L398.7 422.9L399.2 423.1L399.7 423.3L400.2 423.6L400.7 424.0L401.2 424.4L401.7 424.8L402.2 425.2L402.7 425.6L403.3 426.1L403.8 426.6L404.3 427.2L404.8 427.8L405.3 428.4L405.8 429.1L406.3 429.8L406.8 430.5L407.4 431.2L407.9 431.9L408.4 432.6L408.9 433.4L409.4 434.1L409.9 434.7L410.4 435.4L410.9 436.1L411.4 436.9L412.0 437.6L412.5 438.3L413.0 439.0L413.5 439.8L414.0 440.5L414.5 441.2L415.0 441.9L415.5 442.6L416.0 443.3L416.6 443.9L417.1 444.5L417.6 445.2L418.1 445.8L418.6 446.4L419.1 447.0L419.6 447.6L420.1 448.2L420.6 448.8L421.2 449.4L421.7 450.0L422.2 450.6L422.7 451.2L423.2 451.8L423.7 452.3L424.2 452.9L424.7 453.4L425.3 454.0L425.8 454.7L426.3 455.4L426.8 456.1L427.3 456.9L427.8 457.8L428.3 458.7L428.8 459.6L429.3 460.6L429.9 461.6L430.4 462.6L430.9 463.7L431.4 464.7L431.9 465.8L432.4 467.0L432.9 468.2L433.4 469.4L433.9 470.7L434.5 471.9L435.0 473.1L435.5 474.3L436.0 475.5L436.5 476.6L437.0 477.7L437.5 478.7L438.0 479.8L438.6 480.8L439.1 481.8L439.6 482.8L440.1 483.8L440.6 484.8L441.1 485.7L441.6 486.7L442.1 487.6L442.6 488.5L443.2 489.4L443.7 490.3L444.2 491.2L444.7 492.0L445.2 492.8L445.7 493.5L446.2 494.2L446.7 494.8L447.2 495.4L447.8 496.0L448.3 496.5L448.8 497.1L449.3 497.6L449.8 498.1L450.3 498.5L450.8 499.0L451.3 499.5L451.9 499.9L452.4 500.3L452.9 500.8L453.4 501.2L453.9 501.6L454.4 502.0L454.9 502.4L455.4 502.8L455.9 503.1L456.5 503.5L457.0 503.9L457.5 504.2L458.0 504.6L458.5 504.9L459.0 505.3L459.5 505.7L460.0 506.0L460.5 506.4L461.1 506.7L461.6 507.1L462.1 507.4L462.6 507.8L463.1 508.1L463.6 508.5L464.1 508.8L464.6 509.2L465.2 509.5L465.7 509.9L466.2 510.2L466.7 510.5L467.2 510.9L467.7 511.2L468.2 511.5L468.7 511.9L469.2 512.2L469.8 512.5L470.3 512.8L470.8 513.1L471.3 513.5L471.8 513.8" fill="none" stroke="#771ea6" stroke-width="1.60" stroke-linejoin="round" stroke-dasharray="1.2 1.35"/>
<line x1="273.10" y1="482.30" x2="291.60" y2="482.30" stroke="#771ea6" stroke-width="1.80"/>
<text x="293.50" y="484.50" font-size="7.9" fill="#111" stroke="#111" stroke-width="0.18" xml:space="preserve"><tspan font-weight="bold">3</tspan></text>
<line x1="273.10" y1="493.60" x2="291.60" y2="493.60" stroke="#771ea6" stroke-width="1.60" stroke-dasharray="1.2 1.35"/>
<text x="293.50" y="495.80" font-size="7.9" fill="#111" stroke="#111" stroke-width="0.18" xml:space="preserve"><tspan font-weight="bold">3</tspan><tspan font-weight="normal"> + </tspan><tspan font-weight="bold">24</tspan></text>
<text x="487.4" y="73.3" font-size="12.4" fill="#111" stroke="#111" stroke-width="0.25">a</text>
<text x="487.4" y="207.7" font-size="12.4" fill="#111" stroke="#111" stroke-width="0.25">b</text>
<text x="487.4" y="338.6" font-size="12.4" fill="#111" stroke="#111" stroke-width="0.25">c</text>
<text x="487.4" y="469.5" font-size="12.4" fill="#111" stroke="#111" stroke-width="0.25">d</text>
</svg></body></html>
